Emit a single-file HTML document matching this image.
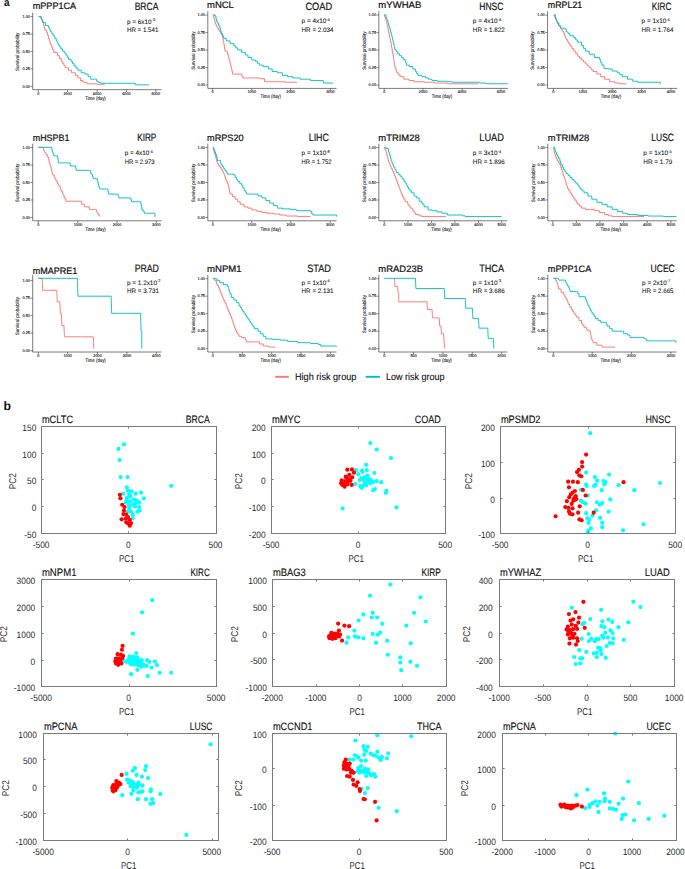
<!DOCTYPE html>
<html><head><meta charset="utf-8"><title>Figure</title>
<style>html,body{margin:0;padding:0;background:#fff;}body{width:685px;height:869px;overflow:hidden;}svg{display:block;font-family:"Liberation Sans",sans-serif;text-rendering:geometricPrecision;}</style></head><body>
<svg width="685" height="869" viewBox="0 0 685 869">
<rect width="685" height="869" fill="#fff"/>
<text x="3.9" y="6.2" font-size="11" font-weight="bold" textLength="5.6" lengthAdjust="spacingAndGlyphs" fill="#111">a</text>
<text x="3.4" y="410" font-size="12.3" font-weight="bold" fill="#111">b</text>
<g transform="translate(0,0) scale(0.25547)">
<path d="M128 49.5 V351 H632" fill="none" stroke="#3a3a3a" stroke-width="2.6"/>
<path d="M119 64.5 H128" stroke="#3a3a3a" stroke-width="2.4"/>
<text x="117" y="69.5" font-size="15" text-anchor="end" fill="#1a1a1a" stroke="#1a1a1a" stroke-width="0.5">1.00</text>
<path d="M119 132.88 H128" stroke="#3a3a3a" stroke-width="2.4"/>
<text x="117" y="137.88" font-size="15" text-anchor="end" fill="#1a1a1a" stroke="#1a1a1a" stroke-width="0.5">0.75</text>
<path d="M119 201.25 H128" stroke="#3a3a3a" stroke-width="2.4"/>
<text x="117" y="206.25" font-size="15" text-anchor="end" fill="#1a1a1a" stroke="#1a1a1a" stroke-width="0.5">0.50</text>
<path d="M119 269.62 H128" stroke="#3a3a3a" stroke-width="2.4"/>
<text x="117" y="274.62" font-size="15" text-anchor="end" fill="#1a1a1a" stroke="#1a1a1a" stroke-width="0.5">0.25</text>
<path d="M119 338 H128" stroke="#3a3a3a" stroke-width="2.4"/>
<text x="117" y="343" font-size="15" text-anchor="end" fill="#1a1a1a" stroke="#1a1a1a" stroke-width="0.5">0.00</text>
<path d="M150 351 V360" stroke="#3a3a3a" stroke-width="2.4"/>
<text x="150" y="370.5" font-size="15" text-anchor="middle" fill="#1a1a1a" stroke="#1a1a1a" stroke-width="0.5">0</text>
<path d="M265 351 V360" stroke="#3a3a3a" stroke-width="2.4"/>
<text x="265" y="370.5" font-size="15" text-anchor="middle" fill="#1a1a1a" stroke="#1a1a1a" stroke-width="0.5">2000</text>
<path d="M380 351 V360" stroke="#3a3a3a" stroke-width="2.4"/>
<text x="380" y="370.5" font-size="15" text-anchor="middle" fill="#1a1a1a" stroke="#1a1a1a" stroke-width="0.5">4000</text>
<path d="M495 351 V360" stroke="#3a3a3a" stroke-width="2.4"/>
<text x="495" y="370.5" font-size="15" text-anchor="middle" fill="#1a1a1a" stroke="#1a1a1a" stroke-width="0.5">6000</text>
<path d="M610 351 V360" stroke="#3a3a3a" stroke-width="2.4"/>
<text x="610" y="370.5" font-size="15" text-anchor="middle" fill="#1a1a1a" stroke="#1a1a1a" stroke-width="0.5">8000</text>
<text x="374" y="390.5" font-size="19.5" text-anchor="middle" textLength="80" lengthAdjust="spacingAndGlyphs" fill="#111" stroke="#111" stroke-width="0.35">Time (day)</text>
<text transform="translate(76,203.25) rotate(-90)" font-size="19.5" text-anchor="middle" textLength="150" lengthAdjust="spacingAndGlyphs" fill="#111" stroke="#111" stroke-width="0.35">Survival probability</text>
<path d="M155 66 L162 66 L162 75 L165 75 L165 82.5 L168 82.5 L168 90 L170.33 90 L170.33 99.33 L172.67 99.33 L172.67 108.67 L175 108.67 L175 118 L183 118 L183 128 L186.5 128 L186.5 139 L190 139 L190 150 L192.67 150 L192.67 158.33 L195.33 158.33 L195.33 166.67 L198 166.67 L198 175 L202 175 L202 185 L206 185 L206 195 L210 195 L210 205 L225 205 L225 218 L232.5 218 L232.5 229 L240 229 L240 240 L245 240 L245 248.33 L250 248.33 L250 256.67 L255 256.67 L255 265 L268 265 L268 275 L280 275 L280 285 L295 285 L295 295 L305 295 L305 305 L315 305 L315 315 L325 315 L325 322 L340 322 L340 328 L380 328 L380 330 L408 330 L408 332" fill="none" stroke="#F8766D" stroke-width="3.6" stroke-linejoin="miter"/>
<path d="M150 65 L160 65 L160 72 L164 72 L164 80 L168 80 L168 88 L178 88 L178 100 L190 100 L190 108 L194 108 L194 116.5 L198 116.5 L198 125 L203 125 L203 132.5 L208 132.5 L208 140 L214 140 L214 150 L220 150 L220 160 L224 160 L224 167.67 L228 167.67 L228 175.33 L232 175.33 L232 183 L238.5 183 L238.5 191.5 L245 191.5 L245 200 L251.5 200 L251.5 207.5 L258 207.5 L258 215 L263 215 L263 223.5 L268 223.5 L268 232 L278 232 L278 240 L284 240 L284 249 L290 249 L290 258 L297.5 258 L297.5 266.5 L305 266.5 L305 275 L318 275 L318 285 L332 285 L332 290 L345 290 L345 300 L355 300 L355 310 L370 310 L378 310 L378 318 L385 318 L385 323 L395 323 L395 326 L520 326 L530 326 L530 332 L582 332 L582 334" fill="none" stroke="#00BFC4" stroke-width="3.6" stroke-linejoin="miter"/>
<text x="128" y="36" font-size="36.4" stroke="#111" stroke-width="0.85" textLength="170" lengthAdjust="spacingAndGlyphs" fill="#111">mPPP1CA</text>
<text x="527" y="39.14" font-size="41.5" stroke="#111" stroke-width="0.7" textLength="93" lengthAdjust="spacingAndGlyphs" fill="#111">BRCA</text>
<text x="497" y="93.75" font-size="25" fill="#111" stroke="#111" stroke-width="0.25"><tspan>p = 6x10</tspan><tspan font-size="16" dy="-10">-3</tspan></text>
<text x="497" y="126.04" font-size="25" stroke="#111" stroke-width="0.25" textLength="123" lengthAdjust="spacingAndGlyphs" fill="#111">HR = 1.541</text>
</g>
<g transform="translate(170,0) scale(0.25547)">
<path d="M148 44 V346 H652" fill="none" stroke="#3a3a3a" stroke-width="2.6"/>
<path d="M139 59 H148" stroke="#3a3a3a" stroke-width="2.4"/>
<text x="137" y="64" font-size="15" text-anchor="end" fill="#1a1a1a" stroke="#1a1a1a" stroke-width="0.5">1.00</text>
<path d="M139 127.5 H148" stroke="#3a3a3a" stroke-width="2.4"/>
<text x="137" y="132.5" font-size="15" text-anchor="end" fill="#1a1a1a" stroke="#1a1a1a" stroke-width="0.5">0.75</text>
<path d="M139 196 H148" stroke="#3a3a3a" stroke-width="2.4"/>
<text x="137" y="201" font-size="15" text-anchor="end" fill="#1a1a1a" stroke="#1a1a1a" stroke-width="0.5">0.50</text>
<path d="M139 264.5 H148" stroke="#3a3a3a" stroke-width="2.4"/>
<text x="137" y="269.5" font-size="15" text-anchor="end" fill="#1a1a1a" stroke="#1a1a1a" stroke-width="0.5">0.25</text>
<path d="M139 333 H148" stroke="#3a3a3a" stroke-width="2.4"/>
<text x="137" y="338" font-size="15" text-anchor="end" fill="#1a1a1a" stroke="#1a1a1a" stroke-width="0.5">0.00</text>
<path d="M167 346 V355" stroke="#3a3a3a" stroke-width="2.4"/>
<text x="167" y="365.5" font-size="15" text-anchor="middle" fill="#1a1a1a" stroke="#1a1a1a" stroke-width="0.5">0</text>
<path d="M320 346 V355" stroke="#3a3a3a" stroke-width="2.4"/>
<text x="320" y="365.5" font-size="15" text-anchor="middle" fill="#1a1a1a" stroke="#1a1a1a" stroke-width="0.5">1000</text>
<path d="M472 346 V355" stroke="#3a3a3a" stroke-width="2.4"/>
<text x="472" y="365.5" font-size="15" text-anchor="middle" fill="#1a1a1a" stroke="#1a1a1a" stroke-width="0.5">2000</text>
<path d="M628 346 V355" stroke="#3a3a3a" stroke-width="2.4"/>
<text x="628" y="365.5" font-size="15" text-anchor="middle" fill="#1a1a1a" stroke="#1a1a1a" stroke-width="0.5">3000</text>
<text x="394" y="385.5" font-size="19.5" text-anchor="middle" textLength="80" lengthAdjust="spacingAndGlyphs" fill="#111" stroke="#111" stroke-width="0.35">Time (day)</text>
<text transform="translate(96,198) rotate(-90)" font-size="19.5" text-anchor="middle" textLength="150" lengthAdjust="spacingAndGlyphs" fill="#111" stroke="#111" stroke-width="0.35">Survival probability</text>
<path d="M167 58 L169.5 58 L169.5 65 L172 65 L172 72 L174 72 L174 79.67 L176 79.67 L176 87.33 L178 87.33 L178 95 L181.5 95 L181.5 102.5 L185 102.5 L185 110 L190 110 L190 117.5 L195 117.5 L195 125 L200 125 L200 135 L205 135 L205 145 L206.75 145 L206.75 153.75 L208.5 153.75 L208.5 162.5 L210.25 162.5 L210.25 171.25 L212 171.25 L212 180 L213.5 180 L213.5 190 L215 190 L215 200 L225 200 L225 210 L227.5 210 L227.5 220 L230 220 L230 230 L232.5 230 L232.5 240 L235 240 L235 250 L237.5 250 L237.5 260 L240 260 L240 270 L242.5 270 L242.5 280 L245 280 L245 290 L280 290 L280 295 L285 295 L285 305 L350 305 L350 308 L370 308 L370 320 L450 320 L450 322 L495 322 L495 325" fill="none" stroke="#F8766D" stroke-width="3.6" stroke-linejoin="miter"/>
<path d="M170 58 L175 58 L175 62 L180 62 L180 75 L182.5 75 L182.5 82.5 L185 82.5 L185 90 L190 90 L190 100 L195 100 L195 110 L197.5 110 L197.5 120 L200 120 L200 130 L205 130 L205 140 L210 140 L210 150 L220 150 L220 160 L235 160 L235 170 L250 170 L250 180 L257.5 180 L257.5 187.5 L265 187.5 L265 195 L280 195 L280 205 L295 205 L295 215 L305 215 L305 225 L320 225 L320 235 L335 235 L335 240 L342.5 240 L342.5 247.5 L350 247.5 L350 255 L365 255 L365 260 L385 260 L385 270 L400 270 L400 280 L420 280 L420 285 L440 285 L440 295 L460 295 L460 300 L480 300 L480 305 L510 305 L510 310 L550 310 L550 315 L600 315 L600 325 L635 325 L635 328" fill="none" stroke="#00BFC4" stroke-width="3.6" stroke-linejoin="miter"/>
<text x="145" y="32" font-size="36.4" stroke="#111" stroke-width="0.85" textLength="105" lengthAdjust="spacingAndGlyphs" fill="#111">mNCL</text>
<text x="530" y="39.14" font-size="41.5" stroke="#111" stroke-width="0.7" textLength="105" lengthAdjust="spacingAndGlyphs" fill="#111">COAD</text>
<text x="515" y="91.59" font-size="25" fill="#111" stroke="#111" stroke-width="0.25"><tspan>p = 4x10</tspan><tspan font-size="16" dy="-10">-4</tspan></text>
<text x="515" y="126.43" font-size="25" stroke="#111" stroke-width="0.25" textLength="125" lengthAdjust="spacingAndGlyphs" fill="#111">HR = 2.034</text>
</g>
<g transform="translate(340,0) scale(0.25547)">
<path d="M152 44 V346 H658" fill="none" stroke="#3a3a3a" stroke-width="2.6"/>
<path d="M143 59 H152" stroke="#3a3a3a" stroke-width="2.4"/>
<text x="141" y="64" font-size="15" text-anchor="end" fill="#1a1a1a" stroke="#1a1a1a" stroke-width="0.5">1.00</text>
<path d="M143 127.5 H152" stroke="#3a3a3a" stroke-width="2.4"/>
<text x="141" y="132.5" font-size="15" text-anchor="end" fill="#1a1a1a" stroke="#1a1a1a" stroke-width="0.5">0.75</text>
<path d="M143 196 H152" stroke="#3a3a3a" stroke-width="2.4"/>
<text x="141" y="201" font-size="15" text-anchor="end" fill="#1a1a1a" stroke="#1a1a1a" stroke-width="0.5">0.50</text>
<path d="M143 264.5 H152" stroke="#3a3a3a" stroke-width="2.4"/>
<text x="141" y="269.5" font-size="15" text-anchor="end" fill="#1a1a1a" stroke="#1a1a1a" stroke-width="0.5">0.25</text>
<path d="M143 333 H152" stroke="#3a3a3a" stroke-width="2.4"/>
<text x="141" y="338" font-size="15" text-anchor="end" fill="#1a1a1a" stroke="#1a1a1a" stroke-width="0.5">0.00</text>
<path d="M173 346 V355" stroke="#3a3a3a" stroke-width="2.4"/>
<text x="173" y="365.5" font-size="15" text-anchor="middle" fill="#1a1a1a" stroke="#1a1a1a" stroke-width="0.5">0</text>
<path d="M325 346 V355" stroke="#3a3a3a" stroke-width="2.4"/>
<text x="325" y="365.5" font-size="15" text-anchor="middle" fill="#1a1a1a" stroke="#1a1a1a" stroke-width="0.5">2000</text>
<path d="M478 346 V355" stroke="#3a3a3a" stroke-width="2.4"/>
<text x="478" y="365.5" font-size="15" text-anchor="middle" fill="#1a1a1a" stroke="#1a1a1a" stroke-width="0.5">4000</text>
<path d="M630 346 V355" stroke="#3a3a3a" stroke-width="2.4"/>
<text x="630" y="365.5" font-size="15" text-anchor="middle" fill="#1a1a1a" stroke="#1a1a1a" stroke-width="0.5">6000</text>
<text x="399" y="385.5" font-size="19.5" text-anchor="middle" textLength="80" lengthAdjust="spacingAndGlyphs" fill="#111" stroke="#111" stroke-width="0.35">Time (day)</text>
<text transform="translate(100,198) rotate(-90)" font-size="19.5" text-anchor="middle" textLength="150" lengthAdjust="spacingAndGlyphs" fill="#111" stroke="#111" stroke-width="0.35">Survival probability</text>
<path d="M172 60 L175 60 L175 67.5 L178 67.5 L178 75 L180.33 75 L180.33 83.33 L182.67 83.33 L182.67 91.67 L185 91.67 L185 100 L186.75 100 L186.75 108.75 L188.5 108.75 L188.5 117.5 L190.25 117.5 L190.25 126.25 L192 126.25 L192 135 L194 135 L194 145 L196 145 L196 155 L198 155 L198 165 L200 165 L200 175 L201.6 175 L201.6 184 L203.2 184 L203.2 193 L204.8 193 L204.8 202 L206.4 202 L206.4 211 L208 211 L208 220 L209.4 220 L209.4 229 L210.8 229 L210.8 238 L212.2 238 L212.2 247 L213.6 247 L213.6 256 L215 256 L215 265 L218.5 265 L218.5 275 L222 275 L222 285 L228.5 285 L228.5 292.5 L235 292.5 L235 300 L250 300 L250 310 L270 310 L270 315 L290 315 L290 320 L330 320 L330 322 L370 322 L370 325 L420 325 L420 328 L540 328 L540 330" fill="none" stroke="#F8766D" stroke-width="3.6" stroke-linejoin="miter"/>
<path d="M172 58 L180 58 L180 70 L184 70 L184 80 L188 80 L188 90 L190.33 90 L190.33 98.33 L192.67 98.33 L192.67 106.67 L195 106.67 L195 115 L197.67 115 L197.67 125 L200.33 125 L200.33 135 L203 135 L203 145 L205.33 145 L205.33 155 L207.67 155 L207.67 165 L210 165 L210 175 L212.5 175 L212.5 185 L215 185 L215 195 L220 195 L220 202.5 L225 202.5 L225 210 L232.5 210 L232.5 217.5 L240 217.5 L240 225 L247.5 225 L247.5 232.5 L255 232.5 L255 240 L257.5 240 L257.5 247.5 L260 247.5 L260 255 L270 255 L270 260 L285 260 L285 270 L295 270 L295 280 L300 280 L300 287.5 L305 287.5 L305 295 L320 295 L320 300 L335 300 L335 305 L345 305 L345 310 L360 310 L360 315 L380 315 L380 318 L420 318 L420 320 L440 320 L440 322 L540 322 L545 322 L545 325 L570 325 L570 327 L580 328 L658 328" fill="none" stroke="#00BFC4" stroke-width="3.6" stroke-linejoin="miter"/>
<text x="150" y="32" font-size="36.4" stroke="#111" stroke-width="0.85" textLength="168" lengthAdjust="spacingAndGlyphs" fill="#111">mYWHAB</text>
<text x="545" y="39.14" font-size="41.5" stroke="#111" stroke-width="0.7" textLength="95" lengthAdjust="spacingAndGlyphs" fill="#111">HNSC</text>
<text x="520" y="91.59" font-size="25" fill="#111" stroke="#111" stroke-width="0.25"><tspan>p = 4x10</tspan><tspan font-size="16" dy="-10">-4</tspan></text>
<text x="520" y="126.43" font-size="25" stroke="#111" stroke-width="0.25" textLength="125" lengthAdjust="spacingAndGlyphs" fill="#111">HR = 1.822</text>
</g>
<g transform="translate(510,0) scale(0.25547)">
<path d="M147 44 V346 H655" fill="none" stroke="#3a3a3a" stroke-width="2.6"/>
<path d="M138 59 H147" stroke="#3a3a3a" stroke-width="2.4"/>
<text x="136" y="64" font-size="15" text-anchor="end" fill="#1a1a1a" stroke="#1a1a1a" stroke-width="0.5">1.00</text>
<path d="M138 127.5 H147" stroke="#3a3a3a" stroke-width="2.4"/>
<text x="136" y="132.5" font-size="15" text-anchor="end" fill="#1a1a1a" stroke="#1a1a1a" stroke-width="0.5">0.75</text>
<path d="M138 196 H147" stroke="#3a3a3a" stroke-width="2.4"/>
<text x="136" y="201" font-size="15" text-anchor="end" fill="#1a1a1a" stroke="#1a1a1a" stroke-width="0.5">0.50</text>
<path d="M138 264.5 H147" stroke="#3a3a3a" stroke-width="2.4"/>
<text x="136" y="269.5" font-size="15" text-anchor="end" fill="#1a1a1a" stroke="#1a1a1a" stroke-width="0.5">0.25</text>
<path d="M138 333 H147" stroke="#3a3a3a" stroke-width="2.4"/>
<text x="136" y="338" font-size="15" text-anchor="end" fill="#1a1a1a" stroke="#1a1a1a" stroke-width="0.5">0.00</text>
<path d="M170 346 V355" stroke="#3a3a3a" stroke-width="2.4"/>
<text x="170" y="365.5" font-size="15" text-anchor="middle" fill="#1a1a1a" stroke="#1a1a1a" stroke-width="0.5">0</text>
<path d="M285 346 V355" stroke="#3a3a3a" stroke-width="2.4"/>
<text x="285" y="365.5" font-size="15" text-anchor="middle" fill="#1a1a1a" stroke="#1a1a1a" stroke-width="0.5">1000</text>
<path d="M400 346 V355" stroke="#3a3a3a" stroke-width="2.4"/>
<text x="400" y="365.5" font-size="15" text-anchor="middle" fill="#1a1a1a" stroke="#1a1a1a" stroke-width="0.5">2000</text>
<path d="M515 346 V355" stroke="#3a3a3a" stroke-width="2.4"/>
<text x="515" y="365.5" font-size="15" text-anchor="middle" fill="#1a1a1a" stroke="#1a1a1a" stroke-width="0.5">3000</text>
<path d="M630 346 V355" stroke="#3a3a3a" stroke-width="2.4"/>
<text x="630" y="365.5" font-size="15" text-anchor="middle" fill="#1a1a1a" stroke="#1a1a1a" stroke-width="0.5">4000</text>
<text x="395" y="385.5" font-size="19.5" text-anchor="middle" textLength="80" lengthAdjust="spacingAndGlyphs" fill="#111" stroke="#111" stroke-width="0.35">Time (day)</text>
<text transform="translate(95,198) rotate(-90)" font-size="19.5" text-anchor="middle" textLength="150" lengthAdjust="spacingAndGlyphs" fill="#111" stroke="#111" stroke-width="0.35">Survival probability</text>
<path d="M170 60 L174 60 L174 67.5 L178 67.5 L178 75 L181.5 75 L181.5 82.5 L185 82.5 L185 90 L192 90 L192 100 L196 100 L196 107.5 L200 107.5 L200 115 L205 115 L205 122.5 L210 122.5 L210 130 L213.33 130 L213.33 138.33 L216.67 138.33 L216.67 146.67 L220 146.67 L220 155 L225 155 L225 163.33 L230 163.33 L230 171.67 L235 171.67 L235 180 L242.5 180 L242.5 190 L250 190 L250 200 L257.5 200 L257.5 210 L265 210 L265 220 L272.5 220 L272.5 227.5 L280 227.5 L280 235 L287.5 235 L287.5 242.5 L295 242.5 L295 250 L302.5 250 L302.5 257.5 L310 257.5 L310 265 L317.5 265 L317.5 272.5 L325 272.5 L325 280 L340 280 L340 290 L355 290 L355 300 L370 300 L370 310 L390 310 L390 320 L410 320 L410 325 L430 325 L430 328 L455 328 L455 330" fill="none" stroke="#F8766D" stroke-width="3.6" stroke-linejoin="miter"/>
<path d="M172 58 L178 58 L178 70 L180.5 70 L180.5 77.5 L183 77.5 L183 85 L186.5 85 L186.5 92.5 L190 92.5 L190 100 L197 100 L197 110 L210 110 L210 113 L220 113 L220 125 L227.5 125 L227.5 132.5 L235 132.5 L235 140 L250 140 L250 148 L257.5 148 L257.5 156.5 L265 156.5 L265 165 L280 165 L280 178 L287.5 178 L287.5 189 L295 189 L295 200 L310 200 L310 212 L330 212 L330 225 L350 225 L350 232 L355 232 L355 245 L360 245 L360 255 L368 255 L368 268 L385 268 L385 270 L400 270 L400 278 L420 278 L420 285 L430 285 L430 292.5 L440 292.5 L440 300 L460 300 L460 310 L480 310 L480 318 L500 318 L500 322 L580 322 L588 322 L588 330" fill="none" stroke="#00BFC4" stroke-width="3.6" stroke-linejoin="miter"/>
<text x="148" y="32" font-size="36.4" stroke="#111" stroke-width="0.85" textLength="135" lengthAdjust="spacingAndGlyphs" fill="#111">mRPL21</text>
<text x="555" y="39.14" font-size="41.5" stroke="#111" stroke-width="0.7" textLength="77" lengthAdjust="spacingAndGlyphs" fill="#111">KIRC</text>
<text x="515" y="91.59" font-size="25" fill="#111" stroke="#111" stroke-width="0.25"><tspan>p = 1x10</tspan><tspan font-size="16" dy="-10">-4</tspan></text>
<text x="515" y="126.43" font-size="25" stroke="#111" stroke-width="0.25" textLength="125" lengthAdjust="spacingAndGlyphs" fill="#111">HR = 1.764</text>
</g>
<g transform="translate(0,120) scale(0.25547)">
<path d="M128 92.5 V394.5 H632" fill="none" stroke="#3a3a3a" stroke-width="2.6"/>
<path d="M119 107.5 H128" stroke="#3a3a3a" stroke-width="2.4"/>
<text x="117" y="112.5" font-size="15" text-anchor="end" fill="#1a1a1a" stroke="#1a1a1a" stroke-width="0.5">1.00</text>
<path d="M119 176 H128" stroke="#3a3a3a" stroke-width="2.4"/>
<text x="117" y="181" font-size="15" text-anchor="end" fill="#1a1a1a" stroke="#1a1a1a" stroke-width="0.5">0.75</text>
<path d="M119 244.5 H128" stroke="#3a3a3a" stroke-width="2.4"/>
<text x="117" y="249.5" font-size="15" text-anchor="end" fill="#1a1a1a" stroke="#1a1a1a" stroke-width="0.5">0.50</text>
<path d="M119 313 H128" stroke="#3a3a3a" stroke-width="2.4"/>
<text x="117" y="318" font-size="15" text-anchor="end" fill="#1a1a1a" stroke="#1a1a1a" stroke-width="0.5">0.25</text>
<path d="M119 381.5 H128" stroke="#3a3a3a" stroke-width="2.4"/>
<text x="117" y="386.5" font-size="15" text-anchor="end" fill="#1a1a1a" stroke="#1a1a1a" stroke-width="0.5">0.00</text>
<path d="M150 394.5 V403.5" stroke="#3a3a3a" stroke-width="2.4"/>
<text x="150" y="414" font-size="15" text-anchor="middle" fill="#1a1a1a" stroke="#1a1a1a" stroke-width="0.5">0</text>
<path d="M305 394.5 V403.5" stroke="#3a3a3a" stroke-width="2.4"/>
<text x="305" y="414" font-size="15" text-anchor="middle" fill="#1a1a1a" stroke="#1a1a1a" stroke-width="0.5">1000</text>
<path d="M458 394.5 V403.5" stroke="#3a3a3a" stroke-width="2.4"/>
<text x="458" y="414" font-size="15" text-anchor="middle" fill="#1a1a1a" stroke="#1a1a1a" stroke-width="0.5">2000</text>
<path d="M612 394.5 V403.5" stroke="#3a3a3a" stroke-width="2.4"/>
<text x="612" y="414" font-size="15" text-anchor="middle" fill="#1a1a1a" stroke="#1a1a1a" stroke-width="0.5">3000</text>
<text x="374" y="434" font-size="19.5" text-anchor="middle" textLength="80" lengthAdjust="spacingAndGlyphs" fill="#111" stroke="#111" stroke-width="0.35">Time (day)</text>
<text transform="translate(76,246.5) rotate(-90)" font-size="19.5" text-anchor="middle" textLength="150" lengthAdjust="spacingAndGlyphs" fill="#111" stroke="#111" stroke-width="0.35">Survival probability</text>
<path d="M150 107 L165 107 L170 107 L170 120 L175 120 L175 127.5 L180 127.5 L180 135 L185 135 L185 145 L190 145 L190 155 L192.5 155 L192.5 165 L195 165 L195 175 L197.5 175 L197.5 182.5 L200 182.5 L200 190 L201.67 190 L201.67 198.33 L203.33 198.33 L203.33 206.67 L205 206.67 L205 215 L212 215 L212 225 L216 225 L216 232.5 L220 232.5 L220 240 L225 240 L225 250 L230 250 L230 257.5 L235 257.5 L235 265 L237.5 265 L237.5 272.5 L240 272.5 L240 280 L245 280 L245 290 L250 290 L250 300 L254 300 L254 309 L258 309 L258 318 L290 318 L315 318 L320 318 L320 330 L330 330 L330 340 L350 340 L350 350 L375 350 L377.5 350 L377.5 357.5 L380 357.5 L380 365 L385 365 L385 372 L390 372 L390 378" fill="none" stroke="#F8766D" stroke-width="3.6" stroke-linejoin="miter"/>
<path d="M150 107 L200 107 L202.5 107 L202.5 116 L205 116 L205 125 L207.5 125 L207.5 132.5 L210 132.5 L210 140 L225 140 L226 140 L226 149.33 L227 149.33 L227 158.67 L228 158.67 L228 168 L270 168 L275 168 L275 180 L295 180 L296.5 180 L296.5 188.5 L298 188.5 L298 197 L350 197 L355 197 L355 210 L360 210 L360 215 L362.5 215 L362.5 222.5 L365 222.5 L365 230 L380 230 L381.67 230 L381.67 238.33 L383.33 238.33 L383.33 246.67 L385 246.67 L385 255 L387.5 255 L387.5 262.5 L390 262.5 L390 270 L420 270 L422.5 270 L422.5 280 L425 280 L425 290 L460 290 L462.5 290 L462.5 297.5 L465 297.5 L465 305 L510 305 L512.5 305 L512.5 312.5 L515 312.5 L515 320 L550 320 L551.67 320 L551.67 330 L553.33 330 L553.33 340 L555 340 L555 350 L560 350 L560 357.5 L565 357.5 L565 365 L605 365 L606 365 L606 372.5 L607 372.5 L607 380" fill="none" stroke="#00BFC4" stroke-width="3.6" stroke-linejoin="miter"/>
<text x="128" y="80.5" font-size="36.4" stroke="#111" stroke-width="0.85" textLength="144" lengthAdjust="spacingAndGlyphs" fill="#111">mHSPB1</text>
<text x="537" y="80.5" font-size="41.5" stroke="#111" stroke-width="0.7" textLength="75" lengthAdjust="spacingAndGlyphs" fill="#111">KIRP</text>
<text x="488" y="137.5" font-size="25" fill="#111" stroke="#111" stroke-width="0.25"><tspan>p = 4x10</tspan><tspan font-size="16" dy="-10">-5</tspan></text>
<text x="488" y="170.5" font-size="25" stroke="#111" stroke-width="0.25" textLength="117" lengthAdjust="spacingAndGlyphs" fill="#111">HR = 2.973</text>
</g>
<g transform="translate(170,120) scale(0.25547)">
<path d="M148 92.5 V394.5 H652" fill="none" stroke="#3a3a3a" stroke-width="2.6"/>
<path d="M139 107.5 H148" stroke="#3a3a3a" stroke-width="2.4"/>
<text x="137" y="112.5" font-size="15" text-anchor="end" fill="#1a1a1a" stroke="#1a1a1a" stroke-width="0.5">1.00</text>
<path d="M139 176 H148" stroke="#3a3a3a" stroke-width="2.4"/>
<text x="137" y="181" font-size="15" text-anchor="end" fill="#1a1a1a" stroke="#1a1a1a" stroke-width="0.5">0.75</text>
<path d="M139 244.5 H148" stroke="#3a3a3a" stroke-width="2.4"/>
<text x="137" y="249.5" font-size="15" text-anchor="end" fill="#1a1a1a" stroke="#1a1a1a" stroke-width="0.5">0.50</text>
<path d="M139 313 H148" stroke="#3a3a3a" stroke-width="2.4"/>
<text x="137" y="318" font-size="15" text-anchor="end" fill="#1a1a1a" stroke="#1a1a1a" stroke-width="0.5">0.25</text>
<path d="M139 381.5 H148" stroke="#3a3a3a" stroke-width="2.4"/>
<text x="137" y="386.5" font-size="15" text-anchor="end" fill="#1a1a1a" stroke="#1a1a1a" stroke-width="0.5">0.00</text>
<path d="M168 394.5 V403.5" stroke="#3a3a3a" stroke-width="2.4"/>
<text x="168" y="414" font-size="15" text-anchor="middle" fill="#1a1a1a" stroke="#1a1a1a" stroke-width="0.5">0</text>
<path d="M320 394.5 V403.5" stroke="#3a3a3a" stroke-width="2.4"/>
<text x="320" y="414" font-size="15" text-anchor="middle" fill="#1a1a1a" stroke="#1a1a1a" stroke-width="0.5">1000</text>
<path d="M473 394.5 V403.5" stroke="#3a3a3a" stroke-width="2.4"/>
<text x="473" y="414" font-size="15" text-anchor="middle" fill="#1a1a1a" stroke="#1a1a1a" stroke-width="0.5">2000</text>
<path d="M627 394.5 V403.5" stroke="#3a3a3a" stroke-width="2.4"/>
<text x="627" y="414" font-size="15" text-anchor="middle" fill="#1a1a1a" stroke="#1a1a1a" stroke-width="0.5">3000</text>
<text x="394" y="434" font-size="19.5" text-anchor="middle" textLength="80" lengthAdjust="spacingAndGlyphs" fill="#111" stroke="#111" stroke-width="0.35">Time (day)</text>
<text transform="translate(96,246.5) rotate(-90)" font-size="19.5" text-anchor="middle" textLength="150" lengthAdjust="spacingAndGlyphs" fill="#111" stroke="#111" stroke-width="0.35">Survival probability</text>
<path d="M168 110 L170 110 L170 117.5 L172 117.5 L172 125 L175 125 L175 135 L178 135 L178 145 L180.33 145 L180.33 153.33 L182.67 153.33 L182.67 161.67 L185 161.67 L185 170 L190 170 L190 177.5 L195 177.5 L195 185 L200 185 L200 192.5 L205 192.5 L205 200 L208.5 200 L208.5 207.5 L212 207.5 L212 215 L214.67 215 L214.67 223.33 L217.33 223.33 L217.33 231.67 L220 231.67 L220 240 L224 240 L224 250 L228 250 L228 260 L230.33 260 L230.33 270 L232.67 270 L232.67 280 L235 280 L235 290 L245 290 L245 300 L255 300 L255 310 L265 310 L265 320 L275 320 L275 330 L290 330 L290 340 L305 340 L305 345 L320 345 L320 352 L340 352 L340 358 L360 358 L360 362 L380 362 L380 365 L405 365 L405 368 L430 368 L430 372 L455 372 L455 376 L500 376 L500 378 L550 378" fill="none" stroke="#F8766D" stroke-width="3.6" stroke-linejoin="miter"/>
<path d="M168 107 L171.5 107 L171.5 116 L175 116 L175 125 L178.5 125 L178.5 135 L182 135 L182 145 L185 145 L185 158 L195 158 L197.5 158 L197.5 166.5 L200 166.5 L200 175 L205 175 L205 182.5 L210 182.5 L210 190 L215 190 L215 197.5 L220 197.5 L220 205 L225 205 L225 212 L240 212 L250 212 L250 215 L255 215 L255 225 L260 225 L260 232.5 L265 232.5 L265 240 L272.5 240 L272.5 247.5 L280 247.5 L280 255 L285 255 L285 265 L290 265 L290 275 L295 275 L295 282.5 L300 282.5 L300 290 L330 290 L345 290 L345 297 L360 297 L360 305 L375 305 L375 315 L390 315 L390 325 L405 325 L405 335 L420 335 L420 345 L440 345 L440 348 L470 348 L470 350 L495 350 L495 355 L550 355 L550 358 L555 358 L555 368 L560 368 L560 372 L645 372 L652 372 L652 378" fill="none" stroke="#00BFC4" stroke-width="3.6" stroke-linejoin="miter"/>
<text x="145" y="80.5" font-size="36.4" stroke="#111" stroke-width="0.85" textLength="143" lengthAdjust="spacingAndGlyphs" fill="#111">mRPS20</text>
<text x="543" y="80.5" font-size="41.5" stroke="#111" stroke-width="0.7" textLength="79" lengthAdjust="spacingAndGlyphs" fill="#111">LIHC</text>
<text x="515" y="137.5" font-size="25" fill="#111" stroke="#111" stroke-width="0.25"><tspan>p = 1x10</tspan><tspan font-size="16" dy="-10">-8</tspan></text>
<text x="515" y="170.5" font-size="25" stroke="#111" stroke-width="0.25" textLength="117" lengthAdjust="spacingAndGlyphs" fill="#111">HR = 1.752</text>
</g>
<g transform="translate(340,120) scale(0.25547)">
<path d="M152 92.5 V394.5 H655" fill="none" stroke="#3a3a3a" stroke-width="2.6"/>
<path d="M143 107.5 H152" stroke="#3a3a3a" stroke-width="2.4"/>
<text x="141" y="112.5" font-size="15" text-anchor="end" fill="#1a1a1a" stroke="#1a1a1a" stroke-width="0.5">1.00</text>
<path d="M143 176 H152" stroke="#3a3a3a" stroke-width="2.4"/>
<text x="141" y="181" font-size="15" text-anchor="end" fill="#1a1a1a" stroke="#1a1a1a" stroke-width="0.5">0.75</text>
<path d="M143 244.5 H152" stroke="#3a3a3a" stroke-width="2.4"/>
<text x="141" y="249.5" font-size="15" text-anchor="end" fill="#1a1a1a" stroke="#1a1a1a" stroke-width="0.5">0.50</text>
<path d="M143 313 H152" stroke="#3a3a3a" stroke-width="2.4"/>
<text x="141" y="318" font-size="15" text-anchor="end" fill="#1a1a1a" stroke="#1a1a1a" stroke-width="0.5">0.25</text>
<path d="M143 381.5 H152" stroke="#3a3a3a" stroke-width="2.4"/>
<text x="141" y="386.5" font-size="15" text-anchor="end" fill="#1a1a1a" stroke="#1a1a1a" stroke-width="0.5">0.00</text>
<path d="M173 394.5 V403.5" stroke="#3a3a3a" stroke-width="2.4"/>
<text x="173" y="414" font-size="15" text-anchor="middle" fill="#1a1a1a" stroke="#1a1a1a" stroke-width="0.5">0</text>
<path d="M266 394.5 V403.5" stroke="#3a3a3a" stroke-width="2.4"/>
<text x="266" y="414" font-size="15" text-anchor="middle" fill="#1a1a1a" stroke="#1a1a1a" stroke-width="0.5">1000</text>
<path d="M358 394.5 V403.5" stroke="#3a3a3a" stroke-width="2.4"/>
<text x="358" y="414" font-size="15" text-anchor="middle" fill="#1a1a1a" stroke="#1a1a1a" stroke-width="0.5">2000</text>
<path d="M450 394.5 V403.5" stroke="#3a3a3a" stroke-width="2.4"/>
<text x="450" y="414" font-size="15" text-anchor="middle" fill="#1a1a1a" stroke="#1a1a1a" stroke-width="0.5">3000</text>
<path d="M542 394.5 V403.5" stroke="#3a3a3a" stroke-width="2.4"/>
<text x="542" y="414" font-size="15" text-anchor="middle" fill="#1a1a1a" stroke="#1a1a1a" stroke-width="0.5">4000</text>
<path d="M633 394.5 V403.5" stroke="#3a3a3a" stroke-width="2.4"/>
<text x="633" y="414" font-size="15" text-anchor="middle" fill="#1a1a1a" stroke="#1a1a1a" stroke-width="0.5">5000</text>
<text x="397.5" y="434" font-size="19.5" text-anchor="middle" textLength="80" lengthAdjust="spacingAndGlyphs" fill="#111" stroke="#111" stroke-width="0.35">Time (day)</text>
<text transform="translate(100,246.5) rotate(-90)" font-size="19.5" text-anchor="middle" textLength="150" lengthAdjust="spacingAndGlyphs" fill="#111" stroke="#111" stroke-width="0.35">Survival probability</text>
<path d="M173 110 L176.5 110 L176.5 117.5 L180 117.5 L180 125 L182.5 125 L182.5 135 L185 135 L185 145 L187.33 145 L187.33 153.33 L189.67 153.33 L189.67 161.67 L192 161.67 L192 170 L196 170 L196 180 L200 180 L200 190 L205 190 L205 200 L210 200 L210 210 L214 210 L214 220 L218 220 L218 230 L221.5 230 L221.5 240 L225 240 L225 250 L228.33 250 L228.33 258.33 L231.67 258.33 L231.67 266.67 L235 266.67 L235 275 L238.33 275 L238.33 283.33 L241.67 283.33 L241.67 291.67 L245 291.67 L245 300 L250 300 L250 310 L255 310 L255 320 L265 320 L265 330 L270 330 L270 337.5 L275 337.5 L275 345 L285 345 L285 355 L290 355 L290 362.5 L295 362.5 L295 370 L310 370 L310 375 L320 375 L320 378 L415 378" fill="none" stroke="#F8766D" stroke-width="3.6" stroke-linejoin="miter"/>
<path d="M173 107 L180 107 L180 112 L190 112 L190 125 L192.5 125 L192.5 132.5 L195 132.5 L195 140 L197.5 140 L197.5 150 L200 150 L200 160 L203.33 160 L203.33 168.33 L206.67 168.33 L206.67 176.67 L210 176.67 L210 185 L215 185 L215 195 L220 195 L220 205 L227.5 205 L227.5 212.5 L235 212.5 L235 220 L242.5 220 L242.5 230 L250 230 L250 240 L255 240 L255 247.5 L260 247.5 L260 255 L264 255 L264 262.5 L268 262.5 L268 270 L274 270 L274 277.5 L280 277.5 L280 285 L290 285 L290 298 L300 298 L300 305 L310 305 L310 318 L320 318 L320 325 L325 325 L325 332.5 L330 332.5 L330 340 L345 340 L345 352 L360 352 L360 355 L380 355 L380 360 L400 360 L400 365 L420 365 L420 372 L440 372 L480 372 L480 375 L490 375 L490 378 L633 378" fill="none" stroke="#00BFC4" stroke-width="3.6" stroke-linejoin="miter"/>
<text x="150" y="80.5" font-size="36.4" stroke="#111" stroke-width="0.85" textLength="162" lengthAdjust="spacingAndGlyphs" fill="#111">mTRIM28</text>
<text x="545" y="80.5" font-size="41.5" stroke="#111" stroke-width="0.7" textLength="97" lengthAdjust="spacingAndGlyphs" fill="#111">LUAD</text>
<text x="520" y="137.5" font-size="25" fill="#111" stroke="#111" stroke-width="0.25"><tspan>p = 3x10</tspan><tspan font-size="16" dy="-10">-4</tspan></text>
<text x="520" y="170.5" font-size="25" stroke="#111" stroke-width="0.25" textLength="125" lengthAdjust="spacingAndGlyphs" fill="#111">HR = 1.896</text>
</g>
<g transform="translate(510,120) scale(0.25547)">
<path d="M148 92.5 V394.5 H652" fill="none" stroke="#3a3a3a" stroke-width="2.6"/>
<path d="M139 107.5 H148" stroke="#3a3a3a" stroke-width="2.4"/>
<text x="137" y="112.5" font-size="15" text-anchor="end" fill="#1a1a1a" stroke="#1a1a1a" stroke-width="0.5">1.00</text>
<path d="M139 176 H148" stroke="#3a3a3a" stroke-width="2.4"/>
<text x="137" y="181" font-size="15" text-anchor="end" fill="#1a1a1a" stroke="#1a1a1a" stroke-width="0.5">0.75</text>
<path d="M139 244.5 H148" stroke="#3a3a3a" stroke-width="2.4"/>
<text x="137" y="249.5" font-size="15" text-anchor="end" fill="#1a1a1a" stroke="#1a1a1a" stroke-width="0.5">0.50</text>
<path d="M139 313 H148" stroke="#3a3a3a" stroke-width="2.4"/>
<text x="137" y="318" font-size="15" text-anchor="end" fill="#1a1a1a" stroke="#1a1a1a" stroke-width="0.5">0.25</text>
<path d="M139 381.5 H148" stroke="#3a3a3a" stroke-width="2.4"/>
<text x="137" y="386.5" font-size="15" text-anchor="end" fill="#1a1a1a" stroke="#1a1a1a" stroke-width="0.5">0.00</text>
<path d="M168 394.5 V403.5" stroke="#3a3a3a" stroke-width="2.4"/>
<text x="168" y="414" font-size="15" text-anchor="middle" fill="#1a1a1a" stroke="#1a1a1a" stroke-width="0.5">0</text>
<path d="M260 394.5 V403.5" stroke="#3a3a3a" stroke-width="2.4"/>
<text x="260" y="414" font-size="15" text-anchor="middle" fill="#1a1a1a" stroke="#1a1a1a" stroke-width="0.5">1000</text>
<path d="M352 394.5 V403.5" stroke="#3a3a3a" stroke-width="2.4"/>
<text x="352" y="414" font-size="15" text-anchor="middle" fill="#1a1a1a" stroke="#1a1a1a" stroke-width="0.5">2000</text>
<path d="M445 394.5 V403.5" stroke="#3a3a3a" stroke-width="2.4"/>
<text x="445" y="414" font-size="15" text-anchor="middle" fill="#1a1a1a" stroke="#1a1a1a" stroke-width="0.5">3000</text>
<path d="M537 394.5 V403.5" stroke="#3a3a3a" stroke-width="2.4"/>
<text x="537" y="414" font-size="15" text-anchor="middle" fill="#1a1a1a" stroke="#1a1a1a" stroke-width="0.5">4000</text>
<path d="M630 394.5 V403.5" stroke="#3a3a3a" stroke-width="2.4"/>
<text x="630" y="414" font-size="15" text-anchor="middle" fill="#1a1a1a" stroke="#1a1a1a" stroke-width="0.5">5000</text>
<text x="394" y="434" font-size="19.5" text-anchor="middle" textLength="80" lengthAdjust="spacingAndGlyphs" fill="#111" stroke="#111" stroke-width="0.35">Time (day)</text>
<text transform="translate(96,246.5) rotate(-90)" font-size="19.5" text-anchor="middle" textLength="150" lengthAdjust="spacingAndGlyphs" fill="#111" stroke="#111" stroke-width="0.35">Survival probability</text>
<path d="M168 112 L172 112 L172 125 L175 125 L175 135 L178 135 L178 145 L181.5 145 L181.5 152.5 L185 152.5 L185 160 L190 160 L190 167.5 L195 167.5 L195 175 L198.5 175 L198.5 185 L202 185 L202 195 L204.67 195 L204.67 203.33 L207.33 203.33 L207.33 211.67 L210 211.67 L210 220 L212.67 220 L212.67 228.33 L215.33 228.33 L215.33 236.67 L218 236.67 L218 245 L220.33 245 L220.33 252.67 L222.67 252.67 L222.67 260.33 L225 260.33 L225 268 L230 268 L230 276.5 L235 276.5 L235 285 L240 285 L240 292.5 L245 292.5 L245 300 L250 300 L250 307.5 L255 307.5 L255 315 L260 315 L260 322.5 L265 322.5 L265 330 L272.5 330 L272.5 337.5 L280 337.5 L280 345 L295 345 L295 350 L310 350 L330 350 L330 355 L350 355 L350 362 L370 362 L370 370 L385 370 L385 375 L400 375 L400 378 L525 378" fill="none" stroke="#F8766D" stroke-width="3.6" stroke-linejoin="miter"/>
<path d="M168 107 L175 107 L175 118 L178.5 118 L178.5 126.5 L182 126.5 L182 135 L186 135 L186 142.5 L190 142.5 L190 150 L195 150 L195 160 L197.5 160 L197.5 167.5 L200 167.5 L200 175 L205 175 L205 185 L210 185 L210 195 L215 195 L215 202.5 L220 202.5 L220 210 L227.5 210 L227.5 217.5 L235 217.5 L235 225 L242.5 225 L242.5 232.5 L250 232.5 L250 240 L257.5 240 L257.5 247.5 L265 247.5 L265 255 L270 255 L270 262.5 L275 262.5 L275 270 L282.5 270 L282.5 277.5 L290 277.5 L290 285 L305 285 L305 298 L320 298 L320 310 L340 310 L340 322 L360 322 L360 330 L380 330 L380 340 L400 340 L400 350 L420 350 L420 358 L440 358 L440 365 L460 365 L460 370 L500 370 L500 374 L540 374 L540 376 L600 376 L600 378 L652 378" fill="none" stroke="#00BFC4" stroke-width="3.6" stroke-linejoin="miter"/>
<text x="148" y="80.5" font-size="36.4" stroke="#111" stroke-width="0.85" textLength="162" lengthAdjust="spacingAndGlyphs" fill="#111">mTRIM28</text>
<text x="553" y="80.5" font-size="41.5" stroke="#111" stroke-width="0.7" textLength="89" lengthAdjust="spacingAndGlyphs" fill="#111">LUSC</text>
<text x="522" y="137.5" font-size="25" fill="#111" stroke="#111" stroke-width="0.25"><tspan>p = 1x10</tspan><tspan font-size="16" dy="-10">-5</tspan></text>
<text x="522" y="170.5" font-size="25" stroke="#111" stroke-width="0.25" textLength="113" lengthAdjust="spacingAndGlyphs" fill="#111">HR = 1.79</text>
</g>
<g transform="translate(0,252) scale(0.25547)">
<path d="M128 89.5 V391.5 H632" fill="none" stroke="#3a3a3a" stroke-width="2.6"/>
<path d="M119 112 H128" stroke="#3a3a3a" stroke-width="2.4"/>
<text x="117" y="117" font-size="15" text-anchor="end" fill="#1a1a1a" stroke="#1a1a1a" stroke-width="0.5">1.00</text>
<path d="M119 180.5 H128" stroke="#3a3a3a" stroke-width="2.4"/>
<text x="117" y="185.5" font-size="15" text-anchor="end" fill="#1a1a1a" stroke="#1a1a1a" stroke-width="0.5">0.75</text>
<path d="M119 249 H128" stroke="#3a3a3a" stroke-width="2.4"/>
<text x="117" y="254" font-size="15" text-anchor="end" fill="#1a1a1a" stroke="#1a1a1a" stroke-width="0.5">0.50</text>
<path d="M119 317.5 H128" stroke="#3a3a3a" stroke-width="2.4"/>
<text x="117" y="322.5" font-size="15" text-anchor="end" fill="#1a1a1a" stroke="#1a1a1a" stroke-width="0.5">0.25</text>
<path d="M119 386 H128" stroke="#3a3a3a" stroke-width="2.4"/>
<text x="117" y="391" font-size="15" text-anchor="end" fill="#1a1a1a" stroke="#1a1a1a" stroke-width="0.5">0.00</text>
<path d="M150 391.5 V400.5" stroke="#3a3a3a" stroke-width="2.4"/>
<text x="150" y="411" font-size="15" text-anchor="middle" fill="#1a1a1a" stroke="#1a1a1a" stroke-width="0.5">0</text>
<path d="M265 391.5 V400.5" stroke="#3a3a3a" stroke-width="2.4"/>
<text x="265" y="411" font-size="15" text-anchor="middle" fill="#1a1a1a" stroke="#1a1a1a" stroke-width="0.5">1000</text>
<path d="M382 391.5 V400.5" stroke="#3a3a3a" stroke-width="2.4"/>
<text x="382" y="411" font-size="15" text-anchor="middle" fill="#1a1a1a" stroke="#1a1a1a" stroke-width="0.5">2000</text>
<path d="M497 391.5 V400.5" stroke="#3a3a3a" stroke-width="2.4"/>
<text x="497" y="411" font-size="15" text-anchor="middle" fill="#1a1a1a" stroke="#1a1a1a" stroke-width="0.5">3000</text>
<path d="M612 391.5 V400.5" stroke="#3a3a3a" stroke-width="2.4"/>
<text x="612" y="411" font-size="15" text-anchor="middle" fill="#1a1a1a" stroke="#1a1a1a" stroke-width="0.5">4000</text>
<text x="374" y="431" font-size="19.5" text-anchor="middle" textLength="80" lengthAdjust="spacingAndGlyphs" fill="#111" stroke="#111" stroke-width="0.35">Time (day)</text>
<text transform="translate(76,251) rotate(-90)" font-size="19.5" text-anchor="middle" textLength="150" lengthAdjust="spacingAndGlyphs" fill="#111" stroke="#111" stroke-width="0.35">Survival probability</text>
<path d="M150 103 L165 103 L165.4 103 L165.4 112.4 L165.8 112.4 L165.8 121.8 L166.2 121.8 L166.2 131.2 L166.6 131.2 L166.6 140.6 L167 140.6 L167 150 L222 150 L222.4 150 L222.4 159 L222.8 159 L222.8 168 L223.2 168 L223.2 177 L223.6 177 L223.6 186 L224 186 L224 195 L234 195 L234.4 195 L234.4 204 L234.8 204 L234.8 213 L235.2 213 L235.2 222 L235.6 222 L235.6 231 L236 231 L236 240 L240 240 L240.4 240 L240.4 249.6 L240.8 249.6 L240.8 259.2 L241.2 259.2 L241.2 268.8 L241.6 268.8 L241.6 278.4 L242 278.4 L242 288 L250 288 L250.4 288 L250.4 296.8 L250.8 296.8 L250.8 305.6 L251.2 305.6 L251.2 314.4 L251.6 314.4 L251.6 323.2 L252 323.2 L252 332 L365 332 L365.4 332 L365.4 341.2 L365.8 341.2 L365.8 350.4 L366.2 350.4 L366.2 359.6 L366.6 359.6 L366.6 368.8 L367 368.8 L367 378" fill="none" stroke="#F8766D" stroke-width="3.6" stroke-linejoin="miter"/>
<path d="M150 103 L303 103 L303.25 103 L303.25 111.75 L303.5 111.75 L303.5 120.5 L303.75 120.5 L303.75 129.25 L304 129.25 L304 138 L304.25 138 L304.25 146.75 L304.5 146.75 L304.5 155.5 L304.75 155.5 L304.75 164.25 L305 164.25 L305 173 L435 173 L435.29 173 L435.29 182.57 L435.57 182.57 L435.57 192.14 L435.86 192.14 L435.86 201.71 L436.14 201.71 L436.14 211.29 L436.43 211.29 L436.43 220.86 L436.71 220.86 L436.71 230.43 L437 230.43 L437 240 L550 240 L550.25 240 L550.25 248.75 L550.5 248.75 L550.5 257.5 L550.75 257.5 L550.75 266.25 L551 266.25 L551 275 L551.25 275 L551.25 283.75 L551.5 283.75 L551.5 292.5 L551.75 292.5 L551.75 301.25 L552 301.25 L552 310 L555 310 L555 378" fill="none" stroke="#00BFC4" stroke-width="3.6" stroke-linejoin="miter"/>
<text x="128" y="85" font-size="36.4" stroke="#111" stroke-width="0.85" textLength="174" lengthAdjust="spacingAndGlyphs" fill="#111">mMAPRE1</text>
<text x="527" y="77.5" font-size="41.5" stroke="#111" stroke-width="0.7" textLength="95" lengthAdjust="spacingAndGlyphs" fill="#111">PRAD</text>
<text x="497" y="127.5" font-size="25" fill="#111" stroke="#111" stroke-width="0.25"><tspan>p = 1.2x10</tspan><tspan font-size="16" dy="-10">-2</tspan></text>
<text x="497" y="161.5" font-size="25" stroke="#111" stroke-width="0.25" textLength="125" lengthAdjust="spacingAndGlyphs" fill="#111">HR = 3.731</text>
</g>
<g transform="translate(170,252) scale(0.25547)">
<path d="M148 89.5 V391.5 H652" fill="none" stroke="#3a3a3a" stroke-width="2.6"/>
<path d="M139 104.5 H148" stroke="#3a3a3a" stroke-width="2.4"/>
<text x="137" y="109.5" font-size="15" text-anchor="end" fill="#1a1a1a" stroke="#1a1a1a" stroke-width="0.5">1.00</text>
<path d="M139 173 H148" stroke="#3a3a3a" stroke-width="2.4"/>
<text x="137" y="178" font-size="15" text-anchor="end" fill="#1a1a1a" stroke="#1a1a1a" stroke-width="0.5">0.75</text>
<path d="M139 241.5 H148" stroke="#3a3a3a" stroke-width="2.4"/>
<text x="137" y="246.5" font-size="15" text-anchor="end" fill="#1a1a1a" stroke="#1a1a1a" stroke-width="0.5">0.50</text>
<path d="M139 310 H148" stroke="#3a3a3a" stroke-width="2.4"/>
<text x="137" y="315" font-size="15" text-anchor="end" fill="#1a1a1a" stroke="#1a1a1a" stroke-width="0.5">0.25</text>
<path d="M139 378.5 H148" stroke="#3a3a3a" stroke-width="2.4"/>
<text x="137" y="383.5" font-size="15" text-anchor="end" fill="#1a1a1a" stroke="#1a1a1a" stroke-width="0.5">0.00</text>
<path d="M168 391.5 V400.5" stroke="#3a3a3a" stroke-width="2.4"/>
<text x="168" y="411" font-size="15" text-anchor="middle" fill="#1a1a1a" stroke="#1a1a1a" stroke-width="0.5">0</text>
<path d="M283 391.5 V400.5" stroke="#3a3a3a" stroke-width="2.4"/>
<text x="283" y="411" font-size="15" text-anchor="middle" fill="#1a1a1a" stroke="#1a1a1a" stroke-width="0.5">500</text>
<path d="M398 391.5 V400.5" stroke="#3a3a3a" stroke-width="2.4"/>
<text x="398" y="411" font-size="15" text-anchor="middle" fill="#1a1a1a" stroke="#1a1a1a" stroke-width="0.5">1000</text>
<path d="M513 391.5 V400.5" stroke="#3a3a3a" stroke-width="2.4"/>
<text x="513" y="411" font-size="15" text-anchor="middle" fill="#1a1a1a" stroke="#1a1a1a" stroke-width="0.5">1500</text>
<path d="M628 391.5 V400.5" stroke="#3a3a3a" stroke-width="2.4"/>
<text x="628" y="411" font-size="15" text-anchor="middle" fill="#1a1a1a" stroke="#1a1a1a" stroke-width="0.5">2000</text>
<text x="394" y="431" font-size="19.5" text-anchor="middle" textLength="80" lengthAdjust="spacingAndGlyphs" fill="#111" stroke="#111" stroke-width="0.35">Time (day)</text>
<text transform="translate(96,243.5) rotate(-90)" font-size="19.5" text-anchor="middle" textLength="150" lengthAdjust="spacingAndGlyphs" fill="#111" stroke="#111" stroke-width="0.35">Survival probability</text>
<path d="M168 105 L175 105 L175 112 L182 112 L182 125 L186 125 L186 132.5 L190 132.5 L190 140 L193.33 140 L193.33 148.33 L196.67 148.33 L196.67 156.67 L200 156.67 L200 165 L203.33 165 L203.33 173.33 L206.67 173.33 L206.67 181.67 L210 181.67 L210 190 L215 190 L215 200 L220 200 L220 210 L223.33 210 L223.33 218.33 L226.67 218.33 L226.67 226.67 L230 226.67 L230 235 L233.33 235 L233.33 243.33 L236.67 243.33 L236.67 251.67 L240 251.67 L240 260 L243.33 260 L243.33 270 L246.67 270 L246.67 280 L250 280 L250 290 L253.33 290 L253.33 298.33 L256.67 298.33 L256.67 306.67 L260 306.67 L260 315 L265 315 L265 322.5 L270 322.5 L270 330 L280 330 L280 335 L295 335 L295 345 L300 345 L300 352 L325 352 L350 352 L350 360 L365 360 L365 368 L385 368 L385 372 L410 372 L410 375" fill="none" stroke="#F8766D" stroke-width="3.6" stroke-linejoin="miter"/>
<path d="M168 103 L175 103 L175 105 L185 105 L185 112 L195 112 L195 120 L210 120 L210 128 L225 128 L225 135 L230 135 L230 148 L232.5 148 L232.5 156.5 L235 156.5 L235 165 L240 165 L240 178 L250 178 L250 188 L260 188 L260 198 L270 198 L270 210 L275 210 L275 217.5 L280 217.5 L280 225 L285 225 L285 232.5 L290 232.5 L290 240 L295 240 L295 247.5 L300 247.5 L300 255 L305 255 L305 262.5 L310 262.5 L310 270 L315 270 L315 277.5 L320 277.5 L320 285 L325 285 L325 292.5 L330 292.5 L330 300 L345 300 L345 310 L355 310 L355 320 L365 320 L365 330 L375 330 L375 340 L400 340 L400 342 L430 342 L430 345 L460 345 L460 350 L500 350 L500 355 L550 355 L550 358 L580 358 L580 362 L590 362 L590 368 L652 368 L652 370" fill="none" stroke="#00BFC4" stroke-width="3.6" stroke-linejoin="miter"/>
<text x="145" y="77.5" font-size="36.4" stroke="#111" stroke-width="0.85" textLength="135" lengthAdjust="spacingAndGlyphs" fill="#111">mNPM1</text>
<text x="537" y="77.5" font-size="41.5" stroke="#111" stroke-width="0.7" textLength="93" lengthAdjust="spacingAndGlyphs" fill="#111">STAD</text>
<text x="515" y="127.5" font-size="25" fill="#111" stroke="#111" stroke-width="0.25"><tspan>p = 1x10</tspan><tspan font-size="16" dy="-10">-4</tspan></text>
<text x="515" y="161.5" font-size="25" stroke="#111" stroke-width="0.25" textLength="125" lengthAdjust="spacingAndGlyphs" fill="#111">HR = 2.131</text>
</g>
<g transform="translate(340,252) scale(0.25547)">
<path d="M152 89.5 V391.5 H655" fill="none" stroke="#3a3a3a" stroke-width="2.6"/>
<path d="M143 104.5 H152" stroke="#3a3a3a" stroke-width="2.4"/>
<text x="141" y="109.5" font-size="15" text-anchor="end" fill="#1a1a1a" stroke="#1a1a1a" stroke-width="0.5">1.00</text>
<path d="M143 173 H152" stroke="#3a3a3a" stroke-width="2.4"/>
<text x="141" y="178" font-size="15" text-anchor="end" fill="#1a1a1a" stroke="#1a1a1a" stroke-width="0.5">0.75</text>
<path d="M143 241.5 H152" stroke="#3a3a3a" stroke-width="2.4"/>
<text x="141" y="246.5" font-size="15" text-anchor="end" fill="#1a1a1a" stroke="#1a1a1a" stroke-width="0.5">0.50</text>
<path d="M143 310 H152" stroke="#3a3a3a" stroke-width="2.4"/>
<text x="141" y="315" font-size="15" text-anchor="end" fill="#1a1a1a" stroke="#1a1a1a" stroke-width="0.5">0.25</text>
<path d="M143 378.5 H152" stroke="#3a3a3a" stroke-width="2.4"/>
<text x="141" y="383.5" font-size="15" text-anchor="end" fill="#1a1a1a" stroke="#1a1a1a" stroke-width="0.5">0.00</text>
<path d="M173 391.5 V400.5" stroke="#3a3a3a" stroke-width="2.4"/>
<text x="173" y="411" font-size="15" text-anchor="middle" fill="#1a1a1a" stroke="#1a1a1a" stroke-width="0.5">0</text>
<path d="M288 391.5 V400.5" stroke="#3a3a3a" stroke-width="2.4"/>
<text x="288" y="411" font-size="15" text-anchor="middle" fill="#1a1a1a" stroke="#1a1a1a" stroke-width="0.5">500</text>
<path d="M403 391.5 V400.5" stroke="#3a3a3a" stroke-width="2.4"/>
<text x="403" y="411" font-size="15" text-anchor="middle" fill="#1a1a1a" stroke="#1a1a1a" stroke-width="0.5">1000</text>
<path d="M518 391.5 V400.5" stroke="#3a3a3a" stroke-width="2.4"/>
<text x="518" y="411" font-size="15" text-anchor="middle" fill="#1a1a1a" stroke="#1a1a1a" stroke-width="0.5">1500</text>
<path d="M633 391.5 V400.5" stroke="#3a3a3a" stroke-width="2.4"/>
<text x="633" y="411" font-size="15" text-anchor="middle" fill="#1a1a1a" stroke="#1a1a1a" stroke-width="0.5">2000</text>
<text x="397.5" y="431" font-size="19.5" text-anchor="middle" textLength="80" lengthAdjust="spacingAndGlyphs" fill="#111" stroke="#111" stroke-width="0.35">Time (day)</text>
<text transform="translate(100,243.5) rotate(-90)" font-size="19.5" text-anchor="middle" textLength="150" lengthAdjust="spacingAndGlyphs" fill="#111" stroke="#111" stroke-width="0.35">Survival probability</text>
<path d="M213 103 L213.5 103 L213.5 111 L214 111 L214 119 L214.5 119 L214.5 127 L215 127 L215 135 L225 135 L225.67 135 L225.67 143.33 L226.33 143.33 L226.33 151.67 L227 151.67 L227 160 L230 160 L230 195 L340 195 L340.67 195 L340.67 205 L341.33 205 L341.33 215 L342 215 L342 225 L360 225 L360.5 225 L360.5 233.25 L361 233.25 L361 241.5 L361.5 241.5 L361.5 249.75 L362 249.75 L362 258 L388 258 L388.5 258 L388.5 266 L389 266 L389 274 L389.5 274 L389.5 282 L390 282 L390 290 L395 290 L395.67 290 L395.67 300 L396.33 300 L396.33 310 L397 310 L397 320 L405 320 L405.67 320 L405.67 330 L406.33 330 L406.33 340 L407 340 L407 350 L408 350 L408 359.33 L409 359.33 L409 368.67 L410 368.67 L410 378" fill="none" stroke="#F8766D" stroke-width="3.6" stroke-linejoin="miter"/>
<path d="M173 103 L295 103 L295.5 103 L295.5 113 L296 113 L296 123 L296.5 123 L296.5 133 L297 133 L297 143 L408 143 L408.5 143 L408.5 152.75 L409 152.75 L409 162.5 L409.5 162.5 L409.5 172.25 L410 172.25 L410 182 L490 182 L490.5 182 L490.5 191.5 L491 191.5 L491 201 L491.5 201 L491.5 210.5 L492 210.5 L492 220 L518 220 L518.5 220 L518.5 230 L519 230 L519 240 L519.5 240 L519.5 250 L520 250 L520 260 L542 260 L542.5 260 L542.5 269.5 L543 269.5 L543 279 L543.5 279 L543.5 288.5 L544 288.5 L544 298 L578 298 L578.5 298 L578.5 308 L579 308 L579 318 L579.5 318 L579.5 328 L580 328 L580 338 L600 338 L600.5 338 L600.5 348 L601 348 L601 358 L601.5 358 L601.5 368 L602 368 L602 378" fill="none" stroke="#00BFC4" stroke-width="3.6" stroke-linejoin="miter"/>
<text x="150" y="77.5" font-size="36.4" stroke="#111" stroke-width="0.85" textLength="175" lengthAdjust="spacingAndGlyphs" fill="#111">mRAD23B</text>
<text x="545" y="77.5" font-size="41.5" stroke="#111" stroke-width="0.7" textLength="97" lengthAdjust="spacingAndGlyphs" fill="#111">THCA</text>
<text x="520" y="127.5" font-size="25" fill="#111" stroke="#111" stroke-width="0.25"><tspan>p = 1x10</tspan><tspan font-size="16" dy="-10">-3</tspan></text>
<text x="520" y="161.5" font-size="25" stroke="#111" stroke-width="0.25" textLength="125" lengthAdjust="spacingAndGlyphs" fill="#111">HR = 3.686</text>
</g>
<g transform="translate(510,252) scale(0.25547)">
<path d="M148 89.5 V391.5 H652" fill="none" stroke="#3a3a3a" stroke-width="2.6"/>
<path d="M139 104.5 H148" stroke="#3a3a3a" stroke-width="2.4"/>
<text x="137" y="109.5" font-size="15" text-anchor="end" fill="#1a1a1a" stroke="#1a1a1a" stroke-width="0.5">1.00</text>
<path d="M139 173 H148" stroke="#3a3a3a" stroke-width="2.4"/>
<text x="137" y="178" font-size="15" text-anchor="end" fill="#1a1a1a" stroke="#1a1a1a" stroke-width="0.5">0.75</text>
<path d="M139 241.5 H148" stroke="#3a3a3a" stroke-width="2.4"/>
<text x="137" y="246.5" font-size="15" text-anchor="end" fill="#1a1a1a" stroke="#1a1a1a" stroke-width="0.5">0.50</text>
<path d="M139 310 H148" stroke="#3a3a3a" stroke-width="2.4"/>
<text x="137" y="315" font-size="15" text-anchor="end" fill="#1a1a1a" stroke="#1a1a1a" stroke-width="0.5">0.25</text>
<path d="M139 378.5 H148" stroke="#3a3a3a" stroke-width="2.4"/>
<text x="137" y="383.5" font-size="15" text-anchor="end" fill="#1a1a1a" stroke="#1a1a1a" stroke-width="0.5">0.00</text>
<path d="M170 391.5 V400.5" stroke="#3a3a3a" stroke-width="2.4"/>
<text x="170" y="411" font-size="15" text-anchor="middle" fill="#1a1a1a" stroke="#1a1a1a" stroke-width="0.5">0</text>
<path d="M322 391.5 V400.5" stroke="#3a3a3a" stroke-width="2.4"/>
<text x="322" y="411" font-size="15" text-anchor="middle" fill="#1a1a1a" stroke="#1a1a1a" stroke-width="0.5">1000</text>
<path d="M475 391.5 V400.5" stroke="#3a3a3a" stroke-width="2.4"/>
<text x="475" y="411" font-size="15" text-anchor="middle" fill="#1a1a1a" stroke="#1a1a1a" stroke-width="0.5">2000</text>
<path d="M630 391.5 V400.5" stroke="#3a3a3a" stroke-width="2.4"/>
<text x="630" y="411" font-size="15" text-anchor="middle" fill="#1a1a1a" stroke="#1a1a1a" stroke-width="0.5">3000</text>
<text x="394" y="431" font-size="19.5" text-anchor="middle" textLength="80" lengthAdjust="spacingAndGlyphs" fill="#111" stroke="#111" stroke-width="0.35">Time (day)</text>
<text transform="translate(96,243.5) rotate(-90)" font-size="19.5" text-anchor="middle" textLength="150" lengthAdjust="spacingAndGlyphs" fill="#111" stroke="#111" stroke-width="0.35">Survival probability</text>
<path d="M170 103 L178 103 L178 110 L181.5 110 L181.5 117.5 L185 117.5 L185 125 L187.5 125 L187.5 135 L190 135 L190 145 L200 145 L200 158 L210 158 L210 168 L215 168 L215 176.5 L220 176.5 L220 185 L224 185 L224 195 L228 195 L228 205 L234 205 L234 215 L240 215 L240 225 L245 225 L245 232.5 L250 232.5 L250 240 L255 240 L255 247.5 L260 247.5 L260 255 L270 255 L270 268 L280 268 L280 280 L285 280 L285 287.5 L290 287.5 L290 295 L300 295 L300 305 L310 305 L310 310 L315 310 L315 315 L316 315 L316 323.33 L317 323.33 L317 331.67 L318 331.67 L318 340 L321.5 340 L321.5 347.5 L325 347.5 L325 355 L340 355 L340 365 L360 365 L360 372 L380 372 L410 372 L410 375" fill="none" stroke="#F8766D" stroke-width="3.6" stroke-linejoin="miter"/>
<path d="M170 103 L185 103 L190 103 L190 110 L215 110 L217.5 110 L217.5 117.5 L220 117.5 L220 125 L225 125 L225 132.5 L230 132.5 L230 140 L232.5 140 L232.5 147.5 L235 147.5 L235 155 L260 155 L265 155 L265 162 L270 162 L270 175 L290 175 L295 175 L295 185 L300 185 L300 195 L302.5 195 L302.5 202.5 L305 202.5 L305 210 L310 210 L310 220 L315 220 L315 230 L320 230 L320 237.5 L325 237.5 L325 245 L330 245 L330 252.5 L335 252.5 L335 260 L345 260 L345 268 L355 268 L355 275 L375 275 L377.5 275 L377.5 282.5 L380 282.5 L380 290 L390 290 L390 300 L400 300 L400 310 L440 310 L445 310 L445 320 L460 320 L460 325 L470 325 L470 335 L515 335 L525 335 L525 340 L535 340 L535 348 L645 348 L650 348 L650 355" fill="none" stroke="#00BFC4" stroke-width="3.6" stroke-linejoin="miter"/>
<text x="148" y="77.5" font-size="36.4" stroke="#111" stroke-width="0.85" textLength="170" lengthAdjust="spacingAndGlyphs" fill="#111">mPPP1CA</text>
<text x="550" y="77.5" font-size="41.5" stroke="#111" stroke-width="0.7" textLength="95" lengthAdjust="spacingAndGlyphs" fill="#111">UCEC</text>
<text x="517" y="127.5" font-size="25" fill="#111" stroke="#111" stroke-width="0.25"><tspan>p = 2x10</tspan><tspan font-size="16" dy="-10">-7</tspan></text>
<text x="517" y="161.5" font-size="25" stroke="#111" stroke-width="0.25" textLength="123" lengthAdjust="spacingAndGlyphs" fill="#111">HR = 2.665</text>
</g>
<path d="M275.2 376.8 H288.8" stroke="#F8766D" stroke-width="1.9"/>
<path d="M365.7 376.8 H379.9" stroke="#00BFC4" stroke-width="1.9"/>
<text x="295" y="379.9" font-size="9.9" stroke="#111" stroke-width="0.12" textLength="61.4" lengthAdjust="spacingAndGlyphs" fill="#111">High risk group</text>
<text x="386.1" y="379.9" font-size="9.9" stroke="#111" stroke-width="0.12" textLength="58.4" lengthAdjust="spacingAndGlyphs" fill="#111">Low risk group</text>
<circle cx="123.94" cy="444.36" r="2.1" fill="#00FFFF"/>
<circle cx="118.34" cy="448.92" r="2.1" fill="#00FFFF"/>
<circle cx="119.62" cy="460.01" r="2.1" fill="#00FFFF"/>
<circle cx="120.67" cy="477.07" r="2.1" fill="#00FFFF"/>
<circle cx="127.56" cy="477.07" r="2.1" fill="#00FFFF"/>
<circle cx="171.24" cy="485.82" r="2.1" fill="#00FFFF"/>
<circle cx="126.86" cy="487.46" r="2.1" fill="#00FFFF"/>
<circle cx="128.03" cy="490.73" r="2.1" fill="#00FFFF"/>
<circle cx="131.53" cy="491.31" r="2.1" fill="#00FFFF"/>
<circle cx="135.62" cy="493.65" r="2.1" fill="#00FFFF"/>
<circle cx="141.11" cy="492.72" r="2.1" fill="#00FFFF"/>
<circle cx="123.01" cy="493.65" r="2.1" fill="#00FFFF"/>
<circle cx="143.8" cy="498.32" r="2.1" fill="#00FFFF"/>
<circle cx="129.2" cy="494.23" r="2.1" fill="#00FFFF"/>
<circle cx="126.86" cy="497.74" r="2.1" fill="#00FFFF"/>
<circle cx="130.36" cy="496.57" r="2.1" fill="#00FFFF"/>
<circle cx="133.87" cy="499.49" r="2.1" fill="#00FFFF"/>
<circle cx="136.79" cy="500.66" r="2.1" fill="#00FFFF"/>
<circle cx="139.12" cy="502.41" r="2.1" fill="#00FFFF"/>
<circle cx="125.69" cy="502.41" r="2.1" fill="#00FFFF"/>
<circle cx="128.61" cy="504.74" r="2.1" fill="#00FFFF"/>
<circle cx="132.7" cy="504.74" r="2.1" fill="#00FFFF"/>
<circle cx="135.04" cy="506.5" r="2.1" fill="#00FFFF"/>
<circle cx="139.12" cy="507.08" r="2.1" fill="#00FFFF"/>
<circle cx="139.71" cy="510.58" r="2.1" fill="#00FFFF"/>
<circle cx="137.37" cy="511.75" r="2.1" fill="#00FFFF"/>
<circle cx="129.2" cy="509.42" r="2.1" fill="#00FFFF"/>
<circle cx="130.95" cy="511.75" r="2.1" fill="#00FFFF"/>
<circle cx="132.7" cy="514.67" r="2.1" fill="#00FFFF"/>
<circle cx="132.7" cy="518.18" r="2.1" fill="#00FFFF"/>
<circle cx="126.86" cy="500.07" r="2.1" fill="#00FFFF"/>
<circle cx="130.36" cy="501.24" r="2.1" fill="#00FFFF"/>
<circle cx="135.04" cy="503.58" r="2.1" fill="#00FFFF"/>
<circle cx="129.2" cy="507.08" r="2.1" fill="#00FFFF"/>
<circle cx="127.45" cy="511.75" r="2.1" fill="#00FFFF"/>
<circle cx="119.85" cy="494.82" r="2.1" fill="#FF0000"/>
<circle cx="120.44" cy="498.32" r="2.1" fill="#FF0000"/>
<circle cx="122.19" cy="504.74" r="2.1" fill="#FF0000"/>
<circle cx="124.53" cy="507.08" r="2.1" fill="#FF0000"/>
<circle cx="123.94" cy="510.58" r="2.1" fill="#FF0000"/>
<circle cx="123.36" cy="514.09" r="2.1" fill="#FF0000"/>
<circle cx="126.28" cy="514.67" r="2.1" fill="#FF0000"/>
<circle cx="121.61" cy="519.34" r="2.1" fill="#FF0000"/>
<circle cx="125.69" cy="518.76" r="2.1" fill="#FF0000"/>
<circle cx="128.03" cy="517.01" r="2.1" fill="#FF0000"/>
<circle cx="129.78" cy="519.93" r="2.1" fill="#FF0000"/>
<circle cx="126.28" cy="522.26" r="2.1" fill="#FF0000"/>
<circle cx="130.95" cy="523.2" r="2.1" fill="#FF0000"/>
<circle cx="129.78" cy="525.77" r="2.1" fill="#FF0000"/>
<circle cx="128.03" cy="523.43" r="2.1" fill="#FF0000"/>
<text x="41.9" y="422.8" font-size="10.75" stroke="#111" stroke-width="0.13" textLength="31.23" lengthAdjust="spacingAndGlyphs" fill="#111">mCLTC</text>
<text x="185.68" y="422.8" font-size="10.75" stroke="#111" stroke-width="0.13" textLength="24.18" lengthAdjust="spacingAndGlyphs" fill="#111">BRCA</text>
<text x="36.3" y="430.97" font-size="9.2" text-anchor="end" textLength="13.97" lengthAdjust="spacingAndGlyphs" fill="#2a2a2a">150</text>
<text x="36.3" y="457.8" font-size="9.2" text-anchor="end" textLength="13.97" lengthAdjust="spacingAndGlyphs" fill="#2a2a2a">100</text>
<text x="36.3" y="484.3" font-size="9.2" text-anchor="end" textLength="9.31" lengthAdjust="spacingAndGlyphs" fill="#2a2a2a">50</text>
<text x="36.3" y="511.14" font-size="9.2" text-anchor="end" textLength="4.66" lengthAdjust="spacingAndGlyphs" fill="#2a2a2a">0</text>
<text x="36.3" y="537.97" font-size="9.2" text-anchor="end" textLength="12.1" lengthAdjust="spacingAndGlyphs" fill="#2a2a2a">-50</text>
<text x="41.15" y="547.5" font-size="9.2" text-anchor="middle" textLength="16.75" lengthAdjust="spacingAndGlyphs" fill="#2a2a2a">-500</text>
<text x="128.31" y="547.5" font-size="9.2" text-anchor="middle" textLength="4.66" lengthAdjust="spacingAndGlyphs" fill="#2a2a2a">0</text>
<text x="215.48" y="547.5" font-size="9.2" text-anchor="middle" textLength="13.97" lengthAdjust="spacingAndGlyphs" fill="#2a2a2a">500</text>
<text x="126.8" y="561.5" font-size="9.9" text-anchor="middle" textLength="15.45" lengthAdjust="spacingAndGlyphs" fill="#2a2a2a">PC1</text>
<text transform="translate(16.05,481.3) rotate(-90)" font-size="9.9" text-anchor="middle" textLength="16.1" lengthAdjust="spacingAndGlyphs" fill="#2a2a2a">PC2</text>
<rect x="41.5" y="426.5" width="175" height="107" fill="none" stroke="#7a7a7a" stroke-width="1"/>
<path d="M42 453.5 H43.6 M216 453.5 H214.4 M42 479.5 H43.6 M216 479.5 H214.4 M42 506.5 H43.6 M216 506.5 H214.4 M128.5 533 V531.4 M128.5 427 V428.6" stroke="#7a7a7a" stroke-width="1" fill="none"/>
<circle cx="370.29" cy="443.08" r="2.1" fill="#00FFFF"/>
<circle cx="376.72" cy="449.5" r="2.1" fill="#00FFFF"/>
<circle cx="390.96" cy="458.03" r="2.1" fill="#00FFFF"/>
<circle cx="366.2" cy="464.8" r="2.1" fill="#00FFFF"/>
<circle cx="355.93" cy="470.06" r="2.1" fill="#00FFFF"/>
<circle cx="362.12" cy="470.64" r="2.1" fill="#00FFFF"/>
<circle cx="362.47" cy="471.81" r="2.1" fill="#00FFFF"/>
<circle cx="366.79" cy="470.06" r="2.1" fill="#00FFFF"/>
<circle cx="358.03" cy="474.15" r="2.1" fill="#00FFFF"/>
<circle cx="374.38" cy="472.98" r="2.1" fill="#00FFFF"/>
<circle cx="367.37" cy="475.55" r="2.1" fill="#00FFFF"/>
<circle cx="364.45" cy="477.3" r="2.1" fill="#00FFFF"/>
<circle cx="361.53" cy="478.47" r="2.1" fill="#00FFFF"/>
<circle cx="359.78" cy="479.99" r="2.1" fill="#00FFFF"/>
<circle cx="363.87" cy="480.22" r="2.1" fill="#00FFFF"/>
<circle cx="366.2" cy="479.64" r="2.1" fill="#00FFFF"/>
<circle cx="369.12" cy="479.05" r="2.1" fill="#00FFFF"/>
<circle cx="370.88" cy="480.22" r="2.1" fill="#00FFFF"/>
<circle cx="373.21" cy="481.97" r="2.1" fill="#00FFFF"/>
<circle cx="376.72" cy="481.04" r="2.1" fill="#00FFFF"/>
<circle cx="381.15" cy="482.2" r="2.1" fill="#00FFFF"/>
<circle cx="370.29" cy="483.14" r="2.1" fill="#00FFFF"/>
<circle cx="366.2" cy="485.47" r="2.1" fill="#00FFFF"/>
<circle cx="362.7" cy="486.06" r="2.1" fill="#00FFFF"/>
<circle cx="360.36" cy="486.06" r="2.1" fill="#00FFFF"/>
<circle cx="361.53" cy="487.81" r="2.1" fill="#00FFFF"/>
<circle cx="355.11" cy="484.07" r="2.1" fill="#00FFFF"/>
<circle cx="373.21" cy="490.15" r="2.1" fill="#00FFFF"/>
<circle cx="374.96" cy="488.98" r="2.1" fill="#00FFFF"/>
<circle cx="386.41" cy="490.96" r="2.1" fill="#00FFFF"/>
<circle cx="385.82" cy="492.83" r="2.1" fill="#00FFFF"/>
<circle cx="342.61" cy="508.48" r="2.1" fill="#00FFFF"/>
<circle cx="396.57" cy="507.31" r="2.1" fill="#00FFFF"/>
<circle cx="365.04" cy="483.14" r="2.1" fill="#00FFFF"/>
<circle cx="368.54" cy="481.97" r="2.1" fill="#00FFFF"/>
<circle cx="347.28" cy="469.71" r="2.1" fill="#FF0000"/>
<circle cx="351.96" cy="469.47" r="2.1" fill="#FF0000"/>
<circle cx="353.94" cy="472.63" r="2.1" fill="#FF0000"/>
<circle cx="349.27" cy="474.96" r="2.1" fill="#FF0000"/>
<circle cx="352.19" cy="477.3" r="2.1" fill="#FF0000"/>
<circle cx="346.35" cy="477.88" r="2.1" fill="#FF0000"/>
<circle cx="348.69" cy="479.05" r="2.1" fill="#FF0000"/>
<circle cx="341.68" cy="480.45" r="2.1" fill="#FF0000"/>
<circle cx="344.6" cy="481.39" r="2.1" fill="#FF0000"/>
<circle cx="347.52" cy="481.97" r="2.1" fill="#FF0000"/>
<circle cx="350.44" cy="480.8" r="2.1" fill="#FF0000"/>
<circle cx="341.09" cy="483.14" r="2.1" fill="#FF0000"/>
<circle cx="344.01" cy="483.72" r="2.1" fill="#FF0000"/>
<circle cx="347.52" cy="484.31" r="2.1" fill="#FF0000"/>
<circle cx="351.61" cy="484.89" r="2.1" fill="#FF0000"/>
<circle cx="344.6" cy="486.64" r="2.1" fill="#FF0000"/>
<circle cx="342.26" cy="484.89" r="2.1" fill="#FF0000"/>
<circle cx="345.77" cy="476.72" r="2.1" fill="#FF0000"/>
<text x="271.9" y="422.8" font-size="10.75" stroke="#111" stroke-width="0.13" textLength="28.54" lengthAdjust="spacingAndGlyphs" fill="#111">mMYC</text>
<text x="414.71" y="422.8" font-size="10.75" stroke="#111" stroke-width="0.13" textLength="26.19" lengthAdjust="spacingAndGlyphs" fill="#111">COAD</text>
<text x="265.6" y="430.97" font-size="9.2" text-anchor="end" textLength="13.97" lengthAdjust="spacingAndGlyphs" fill="#2a2a2a">200</text>
<text x="265.6" y="457.8" font-size="9.2" text-anchor="end" textLength="13.97" lengthAdjust="spacingAndGlyphs" fill="#2a2a2a">100</text>
<text x="265.6" y="484.3" font-size="9.2" text-anchor="end" textLength="4.66" lengthAdjust="spacingAndGlyphs" fill="#2a2a2a">0</text>
<text x="265.6" y="511.14" font-size="9.2" text-anchor="end" textLength="16.75" lengthAdjust="spacingAndGlyphs" fill="#2a2a2a">-100</text>
<text x="265.6" y="537.97" font-size="9.2" text-anchor="end" textLength="16.75" lengthAdjust="spacingAndGlyphs" fill="#2a2a2a">-200</text>
<text x="271.15" y="547.5" font-size="9.2" text-anchor="middle" textLength="16.75" lengthAdjust="spacingAndGlyphs" fill="#2a2a2a">-500</text>
<text x="357.98" y="547.5" font-size="9.2" text-anchor="middle" textLength="4.66" lengthAdjust="spacingAndGlyphs" fill="#2a2a2a">0</text>
<text x="445.15" y="547.5" font-size="9.2" text-anchor="middle" textLength="13.97" lengthAdjust="spacingAndGlyphs" fill="#2a2a2a">500</text>
<text x="356.3" y="561.5" font-size="9.9" text-anchor="middle" textLength="15.45" lengthAdjust="spacingAndGlyphs" fill="#2a2a2a">PC1</text>
<text transform="translate(241.72,481.3) rotate(-90)" font-size="9.9" text-anchor="middle" textLength="16.1" lengthAdjust="spacingAndGlyphs" fill="#2a2a2a">PC2</text>
<rect x="271.5" y="426.5" width="174" height="107" fill="none" stroke="#7a7a7a" stroke-width="1"/>
<path d="M272 453.5 H273.6 M445 453.5 H443.4 M272 479.5 H273.6 M445 479.5 H443.4 M272 506.5 H273.6 M445 506.5 H443.4 M358.5 533 V531.4 M358.5 427 V428.6" stroke="#7a7a7a" stroke-width="1" fill="none"/>
<circle cx="590.15" cy="433.21" r="2.1" fill="#00FFFF"/>
<circle cx="586.13" cy="472.56" r="2.1" fill="#00FFFF"/>
<circle cx="594.97" cy="477.05" r="2.1" fill="#00FFFF"/>
<circle cx="597.05" cy="480.59" r="2.1" fill="#00FFFF"/>
<circle cx="609.1" cy="474.64" r="2.1" fill="#00FFFF"/>
<circle cx="603.48" cy="481.07" r="2.1" fill="#00FFFF"/>
<circle cx="605.4" cy="482.19" r="2.1" fill="#00FFFF"/>
<circle cx="604.28" cy="484.28" r="2.1" fill="#00FFFF"/>
<circle cx="586.13" cy="484.6" r="2.1" fill="#00FFFF"/>
<circle cx="586.61" cy="485.89" r="2.1" fill="#00FFFF"/>
<circle cx="594.16" cy="485.89" r="2.1" fill="#00FFFF"/>
<circle cx="595.77" cy="484.92" r="2.1" fill="#00FFFF"/>
<circle cx="618.73" cy="485.08" r="2.1" fill="#00FFFF"/>
<circle cx="634.31" cy="490.22" r="2.1" fill="#00FFFF"/>
<circle cx="601.71" cy="490.22" r="2.1" fill="#00FFFF"/>
<circle cx="580.99" cy="489.74" r="2.1" fill="#00FFFF"/>
<circle cx="587.74" cy="495.52" r="2.1" fill="#00FFFF"/>
<circle cx="610.22" cy="499.38" r="2.1" fill="#00FFFF"/>
<circle cx="580.99" cy="500.66" r="2.1" fill="#00FFFF"/>
<circle cx="582.92" cy="502.27" r="2.1" fill="#00FFFF"/>
<circle cx="585.65" cy="503.55" r="2.1" fill="#00FFFF"/>
<circle cx="596.89" cy="502.27" r="2.1" fill="#00FFFF"/>
<circle cx="599.78" cy="504.67" r="2.1" fill="#00FFFF"/>
<circle cx="602.19" cy="503.07" r="2.1" fill="#00FFFF"/>
<circle cx="608.62" cy="511.58" r="2.1" fill="#00FFFF"/>
<circle cx="596.09" cy="510.3" r="2.1" fill="#00FFFF"/>
<circle cx="592.56" cy="515.59" r="2.1" fill="#00FFFF"/>
<circle cx="586.13" cy="513.19" r="2.1" fill="#00FFFF"/>
<circle cx="600.1" cy="517.84" r="2.1" fill="#00FFFF"/>
<circle cx="587.26" cy="518.33" r="2.1" fill="#00FFFF"/>
<circle cx="589.34" cy="519.61" r="2.1" fill="#00FFFF"/>
<circle cx="588.54" cy="522.82" r="2.1" fill="#00FFFF"/>
<circle cx="602.19" cy="522.82" r="2.1" fill="#00FFFF"/>
<circle cx="602.19" cy="527.16" r="2.1" fill="#00FFFF"/>
<circle cx="590.95" cy="528.28" r="2.1" fill="#00FFFF"/>
<circle cx="588.54" cy="530.85" r="2.1" fill="#00FFFF"/>
<circle cx="587.74" cy="531.49" r="2.1" fill="#00FFFF"/>
<circle cx="623.07" cy="530.37" r="2.1" fill="#00FFFF"/>
<circle cx="643.62" cy="524.27" r="2.1" fill="#00FFFF"/>
<circle cx="660" cy="483" r="2.1" fill="#00FFFF"/>
<circle cx="586.13" cy="454.57" r="2.1" fill="#FF0000"/>
<circle cx="582.12" cy="462.12" r="2.1" fill="#FF0000"/>
<circle cx="582.12" cy="466.61" r="2.1" fill="#FF0000"/>
<circle cx="578.91" cy="469.83" r="2.1" fill="#FF0000"/>
<circle cx="576.98" cy="472.07" r="2.1" fill="#FF0000"/>
<circle cx="579.23" cy="475.29" r="2.1" fill="#FF0000"/>
<circle cx="581.32" cy="476.25" r="2.1" fill="#FF0000"/>
<circle cx="568.15" cy="481.71" r="2.1" fill="#FF0000"/>
<circle cx="572.96" cy="481.71" r="2.1" fill="#FF0000"/>
<circle cx="577.78" cy="482.19" r="2.1" fill="#FF0000"/>
<circle cx="568.95" cy="487.33" r="2.1" fill="#FF0000"/>
<circle cx="574.89" cy="491.02" r="2.1" fill="#FF0000"/>
<circle cx="572.48" cy="492.63" r="2.1" fill="#FF0000"/>
<circle cx="570.88" cy="494.24" r="2.1" fill="#FF0000"/>
<circle cx="582.92" cy="489.9" r="2.1" fill="#FF0000"/>
<circle cx="575.69" cy="496.16" r="2.1" fill="#FF0000"/>
<circle cx="569.27" cy="497.13" r="2.1" fill="#FF0000"/>
<circle cx="574.09" cy="498.25" r="2.1" fill="#FF0000"/>
<circle cx="576.5" cy="499.05" r="2.1" fill="#FF0000"/>
<circle cx="573.29" cy="500.66" r="2.1" fill="#FF0000"/>
<circle cx="566.86" cy="501.14" r="2.1" fill="#FF0000"/>
<circle cx="571.68" cy="503.87" r="2.1" fill="#FF0000"/>
<circle cx="579.71" cy="506.28" r="2.1" fill="#FF0000"/>
<circle cx="565.26" cy="507.08" r="2.1" fill="#FF0000"/>
<circle cx="568.47" cy="507.89" r="2.1" fill="#FF0000"/>
<circle cx="572.48" cy="508.37" r="2.1" fill="#FF0000"/>
<circle cx="568.95" cy="511.58" r="2.1" fill="#FF0000"/>
<circle cx="570.07" cy="513.83" r="2.1" fill="#FF0000"/>
<circle cx="572.48" cy="514.31" r="2.1" fill="#FF0000"/>
<circle cx="578.1" cy="512.7" r="2.1" fill="#FF0000"/>
<circle cx="579.39" cy="519.45" r="2.1" fill="#FF0000"/>
<circle cx="581.64" cy="520.25" r="2.1" fill="#FF0000"/>
<circle cx="555.62" cy="516.24" r="2.1" fill="#FF0000"/>
<circle cx="585.65" cy="495.52" r="2.1" fill="#FF0000"/>
<circle cx="593.68" cy="512.7" r="2.1" fill="#FF0000"/>
<circle cx="623.55" cy="482.19" r="2.1" fill="#FF0000"/>
<circle cx="574.89" cy="499.86" r="2.1" fill="#FF0000"/>
<text x="500.9" y="422.8" font-size="10.75" stroke="#111" stroke-width="0.13" textLength="39.62" lengthAdjust="spacingAndGlyphs" fill="#111">mPSMD2</text>
<text x="645.38" y="422.8" font-size="10.75" stroke="#111" stroke-width="0.13" textLength="25.18" lengthAdjust="spacingAndGlyphs" fill="#111">HNSC</text>
<text x="494.9" y="430.97" font-size="9.2" text-anchor="end" textLength="13.97" lengthAdjust="spacingAndGlyphs" fill="#2a2a2a">200</text>
<text x="494.9" y="466.86" font-size="9.2" text-anchor="end" textLength="13.97" lengthAdjust="spacingAndGlyphs" fill="#2a2a2a">100</text>
<text x="494.9" y="502.75" font-size="9.2" text-anchor="end" textLength="4.66" lengthAdjust="spacingAndGlyphs" fill="#2a2a2a">0</text>
<text x="494.9" y="537.97" font-size="9.2" text-anchor="end" textLength="16.75" lengthAdjust="spacingAndGlyphs" fill="#2a2a2a">-100</text>
<text x="500.15" y="547.5" font-size="9.2" text-anchor="middle" textLength="16.75" lengthAdjust="spacingAndGlyphs" fill="#2a2a2a">-500</text>
<text x="587.65" y="547.5" font-size="9.2" text-anchor="middle" textLength="4.66" lengthAdjust="spacingAndGlyphs" fill="#2a2a2a">0</text>
<text x="675.15" y="547.5" font-size="9.2" text-anchor="middle" textLength="13.97" lengthAdjust="spacingAndGlyphs" fill="#2a2a2a">500</text>
<text x="585.8" y="561.5" font-size="9.9" text-anchor="middle" textLength="15.45" lengthAdjust="spacingAndGlyphs" fill="#2a2a2a">PC1</text>
<text transform="translate(471.72,481.3) rotate(-90)" font-size="9.9" text-anchor="middle" textLength="16.1" lengthAdjust="spacingAndGlyphs" fill="#2a2a2a">PC2</text>
<rect x="500.5" y="426.5" width="175" height="107" fill="none" stroke="#7a7a7a" stroke-width="1"/>
<path d="M501 462.5 H502.6 M675 462.5 H673.4 M501 498.5 H502.6 M675 498.5 H673.4 M588.5 533 V531.4 M588.5 427 V428.6" stroke="#7a7a7a" stroke-width="1" fill="none"/>
<circle cx="152.3" cy="600.15" r="2.1" fill="#00FFFF"/>
<circle cx="142.01" cy="612.3" r="2.1" fill="#00FFFF"/>
<circle cx="132.92" cy="633.54" r="2.1" fill="#00FFFF"/>
<circle cx="136.21" cy="653.03" r="2.1" fill="#00FFFF"/>
<circle cx="129.64" cy="656.32" r="2.1" fill="#00FFFF"/>
<circle cx="132.92" cy="656.86" r="2.1" fill="#00FFFF"/>
<circle cx="134.56" cy="657.96" r="2.1" fill="#00FFFF"/>
<circle cx="137.3" cy="657.41" r="2.1" fill="#00FFFF"/>
<circle cx="128.54" cy="659.05" r="2.1" fill="#00FFFF"/>
<circle cx="131.28" cy="659.6" r="2.1" fill="#00FFFF"/>
<circle cx="134.02" cy="660.15" r="2.1" fill="#00FFFF"/>
<circle cx="136.75" cy="659.6" r="2.1" fill="#00FFFF"/>
<circle cx="138.94" cy="660.7" r="2.1" fill="#00FFFF"/>
<circle cx="141.68" cy="660.15" r="2.1" fill="#00FFFF"/>
<circle cx="126.9" cy="661.79" r="2.1" fill="#00FFFF"/>
<circle cx="129.64" cy="662.89" r="2.1" fill="#00FFFF"/>
<circle cx="132.37" cy="662.34" r="2.1" fill="#00FFFF"/>
<circle cx="135.66" cy="661.79" r="2.1" fill="#00FFFF"/>
<circle cx="138.4" cy="662.89" r="2.1" fill="#00FFFF"/>
<circle cx="141.13" cy="662.89" r="2.1" fill="#00FFFF"/>
<circle cx="143.32" cy="664.53" r="2.1" fill="#00FFFF"/>
<circle cx="147.15" cy="660.15" r="2.1" fill="#00FFFF"/>
<circle cx="149.34" cy="661.79" r="2.1" fill="#00FFFF"/>
<circle cx="154.82" cy="661.57" r="2.1" fill="#00FFFF"/>
<circle cx="157.01" cy="665.08" r="2.1" fill="#00FFFF"/>
<circle cx="131.28" cy="664.53" r="2.1" fill="#00FFFF"/>
<circle cx="134.56" cy="664.53" r="2.1" fill="#00FFFF"/>
<circle cx="137.85" cy="665.08" r="2.1" fill="#00FFFF"/>
<circle cx="141.13" cy="666.72" r="2.1" fill="#00FFFF"/>
<circle cx="143.87" cy="665.62" r="2.1" fill="#00FFFF"/>
<circle cx="146.61" cy="665.95" r="2.1" fill="#00FFFF"/>
<circle cx="151.53" cy="667.48" r="2.1" fill="#00FFFF"/>
<circle cx="137.3" cy="669.78" r="2.1" fill="#00FFFF"/>
<circle cx="131.06" cy="674.16" r="2.1" fill="#00FFFF"/>
<circle cx="147.7" cy="676.02" r="2.1" fill="#00FFFF"/>
<circle cx="159.75" cy="672.74" r="2.1" fill="#00FFFF"/>
<circle cx="171.24" cy="672.74" r="2.1" fill="#00FFFF"/>
<circle cx="119.78" cy="660.15" r="2.1" fill="#00FFFF"/>
<circle cx="122.52" cy="660.15" r="2.1" fill="#00FFFF"/>
<circle cx="125.26" cy="661.24" r="2.1" fill="#00FFFF"/>
<circle cx="122.52" cy="645.91" r="2.1" fill="#FF0000"/>
<circle cx="121.97" cy="649.75" r="2.1" fill="#FF0000"/>
<circle cx="117.59" cy="654.13" r="2.1" fill="#FF0000"/>
<circle cx="120.88" cy="654.67" r="2.1" fill="#FF0000"/>
<circle cx="123.07" cy="655.77" r="2.1" fill="#FF0000"/>
<circle cx="115.95" cy="658.51" r="2.1" fill="#FF0000"/>
<circle cx="118.69" cy="658.29" r="2.1" fill="#FF0000"/>
<circle cx="115.4" cy="661.24" r="2.1" fill="#FF0000"/>
<circle cx="117.59" cy="661.79" r="2.1" fill="#FF0000"/>
<circle cx="115.95" cy="663.43" r="2.1" fill="#FF0000"/>
<circle cx="119.23" cy="663.43" r="2.1" fill="#FF0000"/>
<circle cx="121.42" cy="663.43" r="2.1" fill="#FF0000"/>
<circle cx="118.14" cy="664.86" r="2.1" fill="#FF0000"/>
<circle cx="120.33" cy="660.7" r="2.1" fill="#FF0000"/>
<circle cx="122.52" cy="657.96" r="2.1" fill="#FF0000"/>
<text x="41.9" y="575.8" font-size="10.75" stroke="#111" stroke-width="0.13" textLength="34.58" lengthAdjust="spacingAndGlyphs" fill="#111">mNPM1</text>
<text x="190.38" y="575.8" font-size="10.75" stroke="#111" stroke-width="0.13" textLength="19.47" lengthAdjust="spacingAndGlyphs" fill="#111">KIRC</text>
<text x="35.2" y="583.97" font-size="9.2" text-anchor="end" textLength="18.62" lengthAdjust="spacingAndGlyphs" fill="#2a2a2a">3000</text>
<text x="35.2" y="610.89" font-size="9.2" text-anchor="end" textLength="18.62" lengthAdjust="spacingAndGlyphs" fill="#2a2a2a">2000</text>
<text x="35.2" y="637.81" font-size="9.2" text-anchor="end" textLength="18.62" lengthAdjust="spacingAndGlyphs" fill="#2a2a2a">1000</text>
<text x="35.2" y="664.72" font-size="9.2" text-anchor="end" textLength="4.66" lengthAdjust="spacingAndGlyphs" fill="#2a2a2a">0</text>
<text x="35.2" y="690.97" font-size="9.2" text-anchor="end" textLength="21.41" lengthAdjust="spacingAndGlyphs" fill="#2a2a2a">-1000</text>
<text x="41.15" y="700.5" font-size="9.2" text-anchor="middle" textLength="21.41" lengthAdjust="spacingAndGlyphs" fill="#2a2a2a">-5000</text>
<text x="128.65" y="700.5" font-size="9.2" text-anchor="middle" textLength="4.66" lengthAdjust="spacingAndGlyphs" fill="#2a2a2a">0</text>
<text x="216.15" y="700.5" font-size="9.2" text-anchor="middle" textLength="18.62" lengthAdjust="spacingAndGlyphs" fill="#2a2a2a">5000</text>
<text x="126.8" y="714.5" font-size="9.9" text-anchor="middle" textLength="15.45" lengthAdjust="spacingAndGlyphs" fill="#2a2a2a">PC1</text>
<text transform="translate(6.65,634.3) rotate(-90)" font-size="9.9" text-anchor="middle" textLength="16.1" lengthAdjust="spacingAndGlyphs" fill="#2a2a2a">PC2</text>
<rect x="41.5" y="579.5" width="175" height="107" fill="none" stroke="#7a7a7a" stroke-width="1"/>
<path d="M42 606.5 H43.6 M216 606.5 H214.4 M42 633.5 H43.6 M216 633.5 H214.4 M42 660.5 H43.6 M216 660.5 H214.4 M129.5 686 V684.4 M129.5 580 V581.6" stroke="#7a7a7a" stroke-width="1" fill="none"/>
<circle cx="390.2" cy="584.58" r="2.1" fill="#00FFFF"/>
<circle cx="370.05" cy="595.66" r="2.1" fill="#00FFFF"/>
<circle cx="420.42" cy="597.34" r="2.1" fill="#00FFFF"/>
<circle cx="363.34" cy="614.47" r="2.1" fill="#00FFFF"/>
<circle cx="372.74" cy="612.79" r="2.1" fill="#00FFFF"/>
<circle cx="358.64" cy="620.51" r="2.1" fill="#00FFFF"/>
<circle cx="371.73" cy="617.49" r="2.1" fill="#00FFFF"/>
<circle cx="377.1" cy="617.49" r="2.1" fill="#00FFFF"/>
<circle cx="382.14" cy="623.87" r="2.1" fill="#00FFFF"/>
<circle cx="414.04" cy="612.79" r="2.1" fill="#00FFFF"/>
<circle cx="425.79" cy="621.52" r="2.1" fill="#00FFFF"/>
<circle cx="406.31" cy="625.55" r="2.1" fill="#00FFFF"/>
<circle cx="354.27" cy="630.58" r="2.1" fill="#00FFFF"/>
<circle cx="354.94" cy="636.29" r="2.1" fill="#00FFFF"/>
<circle cx="358.3" cy="637.3" r="2.1" fill="#00FFFF"/>
<circle cx="372.74" cy="633.94" r="2.1" fill="#00FFFF"/>
<circle cx="377.77" cy="634.61" r="2.1" fill="#00FFFF"/>
<circle cx="380.12" cy="632.6" r="2.1" fill="#00FFFF"/>
<circle cx="363.34" cy="638.31" r="2.1" fill="#00FFFF"/>
<circle cx="348.23" cy="637.3" r="2.1" fill="#00FFFF"/>
<circle cx="346.55" cy="642.67" r="2.1" fill="#00FFFF"/>
<circle cx="376.09" cy="642.67" r="2.1" fill="#00FFFF"/>
<circle cx="387.18" cy="640.66" r="2.1" fill="#00FFFF"/>
<circle cx="410.68" cy="643.34" r="2.1" fill="#00FFFF"/>
<circle cx="387.85" cy="654.76" r="2.1" fill="#00FFFF"/>
<circle cx="400.27" cy="657.45" r="2.1" fill="#00FFFF"/>
<circle cx="400.27" cy="662.48" r="2.1" fill="#00FFFF"/>
<circle cx="410.34" cy="661.81" r="2.1" fill="#00FFFF"/>
<circle cx="417.06" cy="665.84" r="2.1" fill="#00FFFF"/>
<circle cx="401.28" cy="670.2" r="2.1" fill="#00FFFF"/>
<circle cx="338.12" cy="623.61" r="2.1" fill="#FF0000"/>
<circle cx="344.43" cy="625.6" r="2.1" fill="#FF0000"/>
<circle cx="349.1" cy="626.18" r="2.1" fill="#FF0000"/>
<circle cx="338.94" cy="630.62" r="2.1" fill="#FF0000"/>
<circle cx="331.35" cy="632.96" r="2.1" fill="#FF0000"/>
<circle cx="334.27" cy="633.54" r="2.1" fill="#FF0000"/>
<circle cx="337.19" cy="633.54" r="2.1" fill="#FF0000"/>
<circle cx="340.11" cy="634.71" r="2.1" fill="#FF0000"/>
<circle cx="330.18" cy="635.29" r="2.1" fill="#FF0000"/>
<circle cx="333.1" cy="635.88" r="2.1" fill="#FF0000"/>
<circle cx="336.02" cy="635.88" r="2.1" fill="#FF0000"/>
<circle cx="338.94" cy="636.46" r="2.1" fill="#FF0000"/>
<circle cx="329.6" cy="638.21" r="2.1" fill="#FF0000"/>
<circle cx="332.52" cy="638.8" r="2.1" fill="#FF0000"/>
<circle cx="335.44" cy="638.21" r="2.1" fill="#FF0000"/>
<circle cx="342.09" cy="640.55" r="2.1" fill="#FF0000"/>
<circle cx="331.35" cy="637.04" r="2.1" fill="#FF0000"/>
<circle cx="329.01" cy="636.46" r="2.1" fill="#FF0000"/>
<text x="272.9" y="575.8" font-size="10.75" stroke="#111" stroke-width="0.13" textLength="32.91" lengthAdjust="spacingAndGlyphs" fill="#111">mBAG3</text>
<text x="421.42" y="575.8" font-size="10.75" stroke="#111" stroke-width="0.13" textLength="19.47" lengthAdjust="spacingAndGlyphs" fill="#111">KIRP</text>
<text x="266.9" y="583.97" font-size="9.2" text-anchor="end" textLength="18.62" lengthAdjust="spacingAndGlyphs" fill="#2a2a2a">1000</text>
<text x="266.9" y="610.89" font-size="9.2" text-anchor="end" textLength="13.97" lengthAdjust="spacingAndGlyphs" fill="#2a2a2a">500</text>
<text x="266.9" y="637.81" font-size="9.2" text-anchor="end" textLength="4.66" lengthAdjust="spacingAndGlyphs" fill="#2a2a2a">0</text>
<text x="266.9" y="664.05" font-size="9.2" text-anchor="end" textLength="16.75" lengthAdjust="spacingAndGlyphs" fill="#2a2a2a">-500</text>
<text x="266.9" y="690.97" font-size="9.2" text-anchor="end" textLength="21.41" lengthAdjust="spacingAndGlyphs" fill="#2a2a2a">-1000</text>
<text x="272.15" y="700.5" font-size="9.2" text-anchor="middle" textLength="21.41" lengthAdjust="spacingAndGlyphs" fill="#2a2a2a">-2000</text>
<text x="315.82" y="700.5" font-size="9.2" text-anchor="middle" textLength="21.41" lengthAdjust="spacingAndGlyphs" fill="#2a2a2a">-1000</text>
<text x="359.49" y="700.5" font-size="9.2" text-anchor="middle" textLength="4.66" lengthAdjust="spacingAndGlyphs" fill="#2a2a2a">0</text>
<text x="402.48" y="700.5" font-size="9.2" text-anchor="middle" textLength="18.62" lengthAdjust="spacingAndGlyphs" fill="#2a2a2a">1000</text>
<text x="446.15" y="700.5" font-size="9.2" text-anchor="middle" textLength="18.62" lengthAdjust="spacingAndGlyphs" fill="#2a2a2a">2000</text>
<text x="357.3" y="714.5" font-size="9.9" text-anchor="middle" textLength="15.45" lengthAdjust="spacingAndGlyphs" fill="#2a2a2a">PC1</text>
<text transform="translate(238.36,634.3) rotate(-90)" font-size="9.9" text-anchor="middle" textLength="16.1" lengthAdjust="spacingAndGlyphs" fill="#2a2a2a">PC2</text>
<rect x="272.5" y="579.5" width="174" height="107" fill="none" stroke="#7a7a7a" stroke-width="1"/>
<path d="M273 606.5 H274.6 M446 606.5 H444.4 M273 633.5 H274.6 M446 633.5 H444.4 M273 659.5 H274.6 M446 659.5 H444.4 M316.5 686 V684.4 M316.5 580 V581.6 M359.5 686 V684.4 M359.5 580 V581.6 M402.5 686 V684.4 M402.5 580 V581.6" stroke="#7a7a7a" stroke-width="1" fill="none"/>
<circle cx="571.82" cy="607.74" r="2.1" fill="#00FFFF"/>
<circle cx="601.12" cy="609.85" r="2.1" fill="#00FFFF"/>
<circle cx="633.31" cy="601.83" r="2.1" fill="#00FFFF"/>
<circle cx="640.41" cy="607.09" r="2.1" fill="#00FFFF"/>
<circle cx="590.22" cy="619.04" r="2.1" fill="#00FFFF"/>
<circle cx="602.31" cy="621.28" r="2.1" fill="#00FFFF"/>
<circle cx="608.61" cy="619.57" r="2.1" fill="#00FFFF"/>
<circle cx="612.29" cy="621.93" r="2.1" fill="#00FFFF"/>
<circle cx="628.32" cy="622.33" r="2.1" fill="#00FFFF"/>
<circle cx="582.6" cy="624.17" r="2.1" fill="#00FFFF"/>
<circle cx="584.31" cy="622.85" r="2.1" fill="#00FFFF"/>
<circle cx="601.39" cy="626.14" r="2.1" fill="#00FFFF"/>
<circle cx="604.41" cy="627.19" r="2.1" fill="#00FFFF"/>
<circle cx="618.47" cy="627.19" r="2.1" fill="#00FFFF"/>
<circle cx="610.58" cy="630.47" r="2.1" fill="#00FFFF"/>
<circle cx="612.56" cy="633.1" r="2.1" fill="#00FFFF"/>
<circle cx="605.33" cy="632.84" r="2.1" fill="#00FFFF"/>
<circle cx="588.64" cy="634.02" r="2.1" fill="#00FFFF"/>
<circle cx="602.31" cy="635.73" r="2.1" fill="#00FFFF"/>
<circle cx="603.36" cy="637.7" r="2.1" fill="#00FFFF"/>
<circle cx="607.96" cy="637.31" r="2.1" fill="#00FFFF"/>
<circle cx="613.21" cy="638.36" r="2.1" fill="#00FFFF"/>
<circle cx="591.27" cy="638.75" r="2.1" fill="#00FFFF"/>
<circle cx="588.91" cy="640.99" r="2.1" fill="#00FFFF"/>
<circle cx="594.82" cy="641.25" r="2.1" fill="#00FFFF"/>
<circle cx="596.13" cy="639.02" r="2.1" fill="#00FFFF"/>
<circle cx="598.76" cy="639.02" r="2.1" fill="#00FFFF"/>
<circle cx="623.72" cy="639.93" r="2.1" fill="#00FFFF"/>
<circle cx="609.93" cy="642.96" r="2.1" fill="#00FFFF"/>
<circle cx="612.56" cy="643.35" r="2.1" fill="#00FFFF"/>
<circle cx="581.68" cy="638.75" r="2.1" fill="#00FFFF"/>
<circle cx="606.64" cy="645.98" r="2.1" fill="#00FFFF"/>
<circle cx="598.1" cy="647.56" r="2.1" fill="#00FFFF"/>
<circle cx="600.07" cy="648.21" r="2.1" fill="#00FFFF"/>
<circle cx="600.73" cy="650.18" r="2.1" fill="#00FFFF"/>
<circle cx="579.31" cy="650.18" r="2.1" fill="#00FFFF"/>
<circle cx="586.28" cy="651.89" r="2.1" fill="#00FFFF"/>
<circle cx="593.9" cy="653.47" r="2.1" fill="#00FFFF"/>
<circle cx="596.79" cy="652.81" r="2.1" fill="#00FFFF"/>
<circle cx="601.39" cy="654.12" r="2.1" fill="#00FFFF"/>
<circle cx="596.79" cy="657.02" r="2.1" fill="#00FFFF"/>
<circle cx="574.19" cy="657.02" r="2.1" fill="#00FFFF"/>
<circle cx="580.37" cy="658.33" r="2.1" fill="#00FFFF"/>
<circle cx="582.07" cy="658.33" r="2.1" fill="#00FFFF"/>
<circle cx="605.72" cy="657.8" r="2.1" fill="#00FFFF"/>
<circle cx="575.77" cy="663.98" r="2.1" fill="#00FFFF"/>
<circle cx="580.37" cy="663.32" r="2.1" fill="#00FFFF"/>
<circle cx="583.39" cy="601.83" r="2.1" fill="#FF0000"/>
<circle cx="568.93" cy="614.05" r="2.1" fill="#FF0000"/>
<circle cx="575.5" cy="612.08" r="2.1" fill="#FF0000"/>
<circle cx="579.05" cy="617.6" r="2.1" fill="#FF0000"/>
<circle cx="570.51" cy="620.62" r="2.1" fill="#FF0000"/>
<circle cx="573.14" cy="619.31" r="2.1" fill="#FF0000"/>
<circle cx="578.39" cy="622.59" r="2.1" fill="#FF0000"/>
<circle cx="567.88" cy="626.53" r="2.1" fill="#FF0000"/>
<circle cx="571.82" cy="624.56" r="2.1" fill="#FF0000"/>
<circle cx="575.77" cy="625.88" r="2.1" fill="#FF0000"/>
<circle cx="584.7" cy="627.85" r="2.1" fill="#FF0000"/>
<circle cx="566.57" cy="629.42" r="2.1" fill="#FF0000"/>
<circle cx="569.85" cy="629.82" r="2.1" fill="#FF0000"/>
<circle cx="573.14" cy="629.16" r="2.1" fill="#FF0000"/>
<circle cx="577.08" cy="628.9" r="2.1" fill="#FF0000"/>
<circle cx="567.88" cy="634.42" r="2.1" fill="#FF0000"/>
<circle cx="571.17" cy="633.1" r="2.1" fill="#FF0000"/>
<circle cx="574.45" cy="633.76" r="2.1" fill="#FF0000"/>
<circle cx="569.85" cy="638.36" r="2.1" fill="#FF0000"/>
<circle cx="573.14" cy="637.7" r="2.1" fill="#FF0000"/>
<circle cx="577.08" cy="638.36" r="2.1" fill="#FF0000"/>
<circle cx="577.74" cy="640.99" r="2.1" fill="#FF0000"/>
<circle cx="569.46" cy="643.61" r="2.1" fill="#FF0000"/>
<circle cx="576.03" cy="644.53" r="2.1" fill="#FF0000"/>
<circle cx="572.48" cy="635.73" r="2.1" fill="#FF0000"/>
<circle cx="568.54" cy="631.79" r="2.1" fill="#FF0000"/>
<text x="499.9" y="575.8" font-size="10.75" stroke="#111" stroke-width="0.13" textLength="41.3" lengthAdjust="spacingAndGlyphs" fill="#111">mYWHAZ</text>
<text x="644.71" y="575.8" font-size="10.75" stroke="#111" stroke-width="0.13" textLength="25.18" lengthAdjust="spacingAndGlyphs" fill="#111">LUAD</text>
<text x="492.7" y="583.97" font-size="9.2" text-anchor="end" textLength="13.97" lengthAdjust="spacingAndGlyphs" fill="#2a2a2a">400</text>
<text x="492.7" y="610.89" font-size="9.2" text-anchor="end" textLength="13.97" lengthAdjust="spacingAndGlyphs" fill="#2a2a2a">200</text>
<text x="492.7" y="637.81" font-size="9.2" text-anchor="end" textLength="4.66" lengthAdjust="spacingAndGlyphs" fill="#2a2a2a">0</text>
<text x="492.7" y="664.05" font-size="9.2" text-anchor="end" textLength="16.75" lengthAdjust="spacingAndGlyphs" fill="#2a2a2a">-200</text>
<text x="492.7" y="690.97" font-size="9.2" text-anchor="end" textLength="16.75" lengthAdjust="spacingAndGlyphs" fill="#2a2a2a">-400</text>
<text x="499.15" y="700.5" font-size="9.2" text-anchor="middle" textLength="21.41" lengthAdjust="spacingAndGlyphs" fill="#2a2a2a">-1000</text>
<text x="542.9" y="700.5" font-size="9.2" text-anchor="middle" textLength="16.75" lengthAdjust="spacingAndGlyphs" fill="#2a2a2a">-500</text>
<text x="586.65" y="700.5" font-size="9.2" text-anchor="middle" textLength="4.66" lengthAdjust="spacingAndGlyphs" fill="#2a2a2a">0</text>
<text x="630.4" y="700.5" font-size="9.2" text-anchor="middle" textLength="13.97" lengthAdjust="spacingAndGlyphs" fill="#2a2a2a">500</text>
<text x="674.15" y="700.5" font-size="9.2" text-anchor="middle" textLength="18.62" lengthAdjust="spacingAndGlyphs" fill="#2a2a2a">1000</text>
<text x="584.8" y="714.5" font-size="9.9" text-anchor="middle" textLength="15.45" lengthAdjust="spacingAndGlyphs" fill="#2a2a2a">PC1</text>
<text transform="translate(470.04,634.3) rotate(-90)" font-size="9.9" text-anchor="middle" textLength="16.1" lengthAdjust="spacingAndGlyphs" fill="#2a2a2a">PC2</text>
<rect x="499.5" y="579.5" width="175" height="107" fill="none" stroke="#7a7a7a" stroke-width="1"/>
<path d="M500 606.5 H501.6 M674 606.5 H672.4 M500 633.5 H501.6 M674 633.5 H672.4 M500 659.5 H501.6 M674 659.5 H672.4 M543.5 686 V684.4 M543.5 580 V581.6 M587.5 686 V684.4 M587.5 580 V581.6 M630.5 686 V684.4 M630.5 580 V581.6" stroke="#7a7a7a" stroke-width="1" fill="none"/>
<circle cx="145.98" cy="766.04" r="2.1" fill="#00FFFF"/>
<circle cx="145.27" cy="770.12" r="2.1" fill="#00FFFF"/>
<circle cx="134.95" cy="768.08" r="2.1" fill="#00FFFF"/>
<circle cx="132.9" cy="770.53" r="2.1" fill="#00FFFF"/>
<circle cx="126.36" cy="773.9" r="2.1" fill="#00FFFF"/>
<circle cx="136.58" cy="774.93" r="2.1" fill="#00FFFF"/>
<circle cx="141.9" cy="776.77" r="2.1" fill="#00FFFF"/>
<circle cx="148.03" cy="777.99" r="2.1" fill="#00FFFF"/>
<circle cx="127.08" cy="779.52" r="2.1" fill="#00FFFF"/>
<circle cx="129.12" cy="780.04" r="2.1" fill="#00FFFF"/>
<circle cx="130.66" cy="781.06" r="2.1" fill="#00FFFF"/>
<circle cx="132.7" cy="782.08" r="2.1" fill="#00FFFF"/>
<circle cx="128.61" cy="782.59" r="2.1" fill="#00FFFF"/>
<circle cx="130.66" cy="783.61" r="2.1" fill="#00FFFF"/>
<circle cx="133.21" cy="784.12" r="2.1" fill="#00FFFF"/>
<circle cx="135.25" cy="784.63" r="2.1" fill="#00FFFF"/>
<circle cx="138.32" cy="782.59" r="2.1" fill="#00FFFF"/>
<circle cx="138.83" cy="784.63" r="2.1" fill="#00FFFF"/>
<circle cx="142.41" cy="785.45" r="2.1" fill="#00FFFF"/>
<circle cx="130.66" cy="786.17" r="2.1" fill="#00FFFF"/>
<circle cx="133.72" cy="786.68" r="2.1" fill="#00FFFF"/>
<circle cx="136.79" cy="787.7" r="2.1" fill="#00FFFF"/>
<circle cx="133.21" cy="790.25" r="2.1" fill="#00FFFF"/>
<circle cx="131.47" cy="793.83" r="2.1" fill="#00FFFF"/>
<circle cx="138.32" cy="792.3" r="2.1" fill="#00FFFF"/>
<circle cx="140.87" cy="791.79" r="2.1" fill="#00FFFF"/>
<circle cx="142.41" cy="791.28" r="2.1" fill="#00FFFF"/>
<circle cx="150.89" cy="789.23" r="2.1" fill="#00FFFF"/>
<circle cx="150.58" cy="791.28" r="2.1" fill="#00FFFF"/>
<circle cx="160.29" cy="794.04" r="2.1" fill="#00FFFF"/>
<circle cx="122.28" cy="795.16" r="2.1" fill="#00FFFF"/>
<circle cx="137.81" cy="799.14" r="2.1" fill="#00FFFF"/>
<circle cx="145.98" cy="799.14" r="2.1" fill="#00FFFF"/>
<circle cx="152.12" cy="799.14" r="2.1" fill="#00FFFF"/>
<circle cx="153.14" cy="803.03" r="2.1" fill="#00FFFF"/>
<circle cx="150.58" cy="803.85" r="2.1" fill="#00FFFF"/>
<circle cx="135.77" cy="785.66" r="2.1" fill="#00FFFF"/>
<circle cx="137.3" cy="786.17" r="2.1" fill="#00FFFF"/>
<circle cx="210.53" cy="744.26" r="2.1" fill="#00FFFF"/>
<circle cx="186.35" cy="834.91" r="2.1" fill="#00FFFF"/>
<circle cx="121.66" cy="774.93" r="2.1" fill="#FF0000"/>
<circle cx="116.35" cy="781.06" r="2.1" fill="#FF0000"/>
<circle cx="118.9" cy="782.59" r="2.1" fill="#FF0000"/>
<circle cx="120.44" cy="784.12" r="2.1" fill="#FF0000"/>
<circle cx="113.28" cy="785.15" r="2.1" fill="#FF0000"/>
<circle cx="115.84" cy="784.63" r="2.1" fill="#FF0000"/>
<circle cx="117.88" cy="785.66" r="2.1" fill="#FF0000"/>
<circle cx="112.26" cy="787.7" r="2.1" fill="#FF0000"/>
<circle cx="114.82" cy="787.7" r="2.1" fill="#FF0000"/>
<circle cx="116.86" cy="787.7" r="2.1" fill="#FF0000"/>
<circle cx="112.77" cy="790.25" r="2.1" fill="#FF0000"/>
<circle cx="115.33" cy="790.25" r="2.1" fill="#FF0000"/>
<circle cx="113.28" cy="791.28" r="2.1" fill="#FF0000"/>
<circle cx="114.31" cy="789.23" r="2.1" fill="#FF0000"/>
<circle cx="117.37" cy="783.61" r="2.1" fill="#FF0000"/>
<text x="43.9" y="729.8" font-size="10.75" stroke="#111" stroke-width="0.13" textLength="33.58" lengthAdjust="spacingAndGlyphs" fill="#111">mPCNA</text>
<text x="189.71" y="729.8" font-size="10.75" stroke="#111" stroke-width="0.13" textLength="22.83" lengthAdjust="spacingAndGlyphs" fill="#111">LUSC</text>
<text x="36.9" y="737.97" font-size="9.2" text-anchor="end" textLength="18.62" lengthAdjust="spacingAndGlyphs" fill="#2a2a2a">1000</text>
<text x="36.9" y="764.3" font-size="9.2" text-anchor="end" textLength="13.97" lengthAdjust="spacingAndGlyphs" fill="#2a2a2a">500</text>
<text x="36.9" y="791.3" font-size="9.2" text-anchor="end" textLength="4.66" lengthAdjust="spacingAndGlyphs" fill="#2a2a2a">0</text>
<text x="36.9" y="817.97" font-size="9.2" text-anchor="end" textLength="16.75" lengthAdjust="spacingAndGlyphs" fill="#2a2a2a">-500</text>
<text x="36.9" y="844.97" font-size="9.2" text-anchor="end" textLength="21.41" lengthAdjust="spacingAndGlyphs" fill="#2a2a2a">-1000</text>
<text x="43.15" y="854.5" font-size="9.2" text-anchor="middle" textLength="21.41" lengthAdjust="spacingAndGlyphs" fill="#2a2a2a">-5000</text>
<text x="127.63" y="854.5" font-size="9.2" text-anchor="middle" textLength="4.66" lengthAdjust="spacingAndGlyphs" fill="#2a2a2a">0</text>
<text x="211.78" y="854.5" font-size="9.2" text-anchor="middle" textLength="18.62" lengthAdjust="spacingAndGlyphs" fill="#2a2a2a">5000</text>
<text x="128.8" y="868.5" font-size="9.9" text-anchor="middle" textLength="15.45" lengthAdjust="spacingAndGlyphs" fill="#2a2a2a">PC1</text>
<text transform="translate(9.33,788.3) rotate(-90)" font-size="9.9" text-anchor="middle" textLength="16.1" lengthAdjust="spacingAndGlyphs" fill="#2a2a2a">PC2</text>
<rect x="43.5" y="733.5" width="175" height="107" fill="none" stroke="#7a7a7a" stroke-width="1"/>
<path d="M44 759.5 H45.6 M218 759.5 H216.4 M44 786.5 H45.6 M218 786.5 H216.4 M44 813.5 H45.6 M218 813.5 H216.4 M127.5 840 V838.4 M127.5 734 V735.6 M212.5 840 V838.4 M212.5 734 V735.6" stroke="#7a7a7a" stroke-width="1" fill="none"/>
<circle cx="377.3" cy="735.26" r="2.1" fill="#00FFFF"/>
<circle cx="411.2" cy="736.31" r="2.1" fill="#00FFFF"/>
<circle cx="355.36" cy="740.51" r="2.1" fill="#00FFFF"/>
<circle cx="363.5" cy="746.03" r="2.1" fill="#00FFFF"/>
<circle cx="367.71" cy="746.82" r="2.1" fill="#00FFFF"/>
<circle cx="364.42" cy="749.71" r="2.1" fill="#00FFFF"/>
<circle cx="366.13" cy="751.02" r="2.1" fill="#00FFFF"/>
<circle cx="377.3" cy="751.68" r="2.1" fill="#00FFFF"/>
<circle cx="388.21" cy="753.26" r="2.1" fill="#00FFFF"/>
<circle cx="370.73" cy="753.65" r="2.1" fill="#00FFFF"/>
<circle cx="373.36" cy="755.23" r="2.1" fill="#00FFFF"/>
<circle cx="375.33" cy="755.62" r="2.1" fill="#00FFFF"/>
<circle cx="364.16" cy="754.7" r="2.1" fill="#00FFFF"/>
<circle cx="354.96" cy="755.23" r="2.1" fill="#00FFFF"/>
<circle cx="356.93" cy="756.28" r="2.1" fill="#00FFFF"/>
<circle cx="358.25" cy="757.59" r="2.1" fill="#00FFFF"/>
<circle cx="361.14" cy="760.61" r="2.1" fill="#00FFFF"/>
<circle cx="365.74" cy="760.61" r="2.1" fill="#00FFFF"/>
<circle cx="353.39" cy="759.56" r="2.1" fill="#00FFFF"/>
<circle cx="349.71" cy="759.56" r="2.1" fill="#00FFFF"/>
<circle cx="378.61" cy="757.59" r="2.1" fill="#00FFFF"/>
<circle cx="381.9" cy="756.93" r="2.1" fill="#00FFFF"/>
<circle cx="380.58" cy="759.96" r="2.1" fill="#00FFFF"/>
<circle cx="386.89" cy="758.25" r="2.1" fill="#00FFFF"/>
<circle cx="360.88" cy="766.13" r="2.1" fill="#00FFFF"/>
<circle cx="358.25" cy="768.1" r="2.1" fill="#00FFFF"/>
<circle cx="364.82" cy="768.76" r="2.1" fill="#00FFFF"/>
<circle cx="368.1" cy="769.42" r="2.1" fill="#00FFFF"/>
<circle cx="362.19" cy="770.73" r="2.1" fill="#00FFFF"/>
<circle cx="359.56" cy="772.7" r="2.1" fill="#00FFFF"/>
<circle cx="363.5" cy="772.04" r="2.1" fill="#00FFFF"/>
<circle cx="366.79" cy="772.04" r="2.1" fill="#00FFFF"/>
<circle cx="369.42" cy="773.36" r="2.1" fill="#00FFFF"/>
<circle cx="366.13" cy="775.99" r="2.1" fill="#00FFFF"/>
<circle cx="371.39" cy="775.33" r="2.1" fill="#00FFFF"/>
<circle cx="375.33" cy="776.64" r="2.1" fill="#00FFFF"/>
<circle cx="374.02" cy="774.02" r="2.1" fill="#00FFFF"/>
<circle cx="361.53" cy="788.86" r="2.1" fill="#00FFFF"/>
<circle cx="367.71" cy="788.07" r="2.1" fill="#00FFFF"/>
<circle cx="364.95" cy="793.07" r="2.1" fill="#00FFFF"/>
<circle cx="378.61" cy="807.78" r="2.1" fill="#00FFFF"/>
<circle cx="396.75" cy="811.2" r="2.1" fill="#00FFFF"/>
<circle cx="359.56" cy="770.07" r="2.1" fill="#00FFFF"/>
<circle cx="357.59" cy="771.39" r="2.1" fill="#00FFFF"/>
<circle cx="345.77" cy="759.56" r="2.1" fill="#FF0000"/>
<circle cx="344.45" cy="762.19" r="2.1" fill="#FF0000"/>
<circle cx="347.08" cy="763.5" r="2.1" fill="#FF0000"/>
<circle cx="349.71" cy="763.5" r="2.1" fill="#FF0000"/>
<circle cx="343.8" cy="765.47" r="2.1" fill="#FF0000"/>
<circle cx="345.77" cy="766.13" r="2.1" fill="#FF0000"/>
<circle cx="348.39" cy="766.79" r="2.1" fill="#FF0000"/>
<circle cx="343.8" cy="768.76" r="2.1" fill="#FF0000"/>
<circle cx="346.42" cy="769.42" r="2.1" fill="#FF0000"/>
<circle cx="349.71" cy="769.42" r="2.1" fill="#FF0000"/>
<circle cx="351.68" cy="770.73" r="2.1" fill="#FF0000"/>
<circle cx="353.65" cy="772.7" r="2.1" fill="#FF0000"/>
<circle cx="347.08" cy="775.99" r="2.1" fill="#FF0000"/>
<circle cx="349.71" cy="776.64" r="2.1" fill="#FF0000"/>
<circle cx="352.99" cy="779.93" r="2.1" fill="#FF0000"/>
<circle cx="357.59" cy="782.29" r="2.1" fill="#FF0000"/>
<circle cx="353.65" cy="784.53" r="2.1" fill="#FF0000"/>
<circle cx="356.28" cy="785.84" r="2.1" fill="#FF0000"/>
<circle cx="359.56" cy="789.12" r="2.1" fill="#FF0000"/>
<circle cx="359.96" cy="791.1" r="2.1" fill="#FF0000"/>
<circle cx="363.5" cy="798.98" r="2.1" fill="#FF0000"/>
<circle cx="364.82" cy="799.24" r="2.1" fill="#FF0000"/>
<circle cx="375.07" cy="801.87" r="2.1" fill="#FF0000"/>
<circle cx="376.64" cy="820.4" r="2.1" fill="#FF0000"/>
<circle cx="345.11" cy="764.16" r="2.1" fill="#FF0000"/>
<circle cx="348.39" cy="765.47" r="2.1" fill="#FF0000"/>
<circle cx="351.02" cy="772.7" r="2.1" fill="#FF0000"/>
<text x="272.9" y="729.8" font-size="10.75" stroke="#111" stroke-width="0.13" textLength="39.62" lengthAdjust="spacingAndGlyphs" fill="#111">mCCND1</text>
<text x="417.06" y="729.8" font-size="10.75" stroke="#111" stroke-width="0.13" textLength="24.51" lengthAdjust="spacingAndGlyphs" fill="#111">THCA</text>
<text x="266.6" y="737.97" font-size="9.2" text-anchor="end" textLength="13.97" lengthAdjust="spacingAndGlyphs" fill="#2a2a2a">100</text>
<text x="266.6" y="773.41" font-size="9.2" text-anchor="end" textLength="4.66" lengthAdjust="spacingAndGlyphs" fill="#2a2a2a">0</text>
<text x="266.6" y="809.53" font-size="9.2" text-anchor="end" textLength="16.75" lengthAdjust="spacingAndGlyphs" fill="#2a2a2a">-100</text>
<text x="266.6" y="844.97" font-size="9.2" text-anchor="end" textLength="16.75" lengthAdjust="spacingAndGlyphs" fill="#2a2a2a">-200</text>
<text x="272.15" y="854.5" font-size="9.2" text-anchor="middle" textLength="16.75" lengthAdjust="spacingAndGlyphs" fill="#2a2a2a">-500</text>
<text x="359.15" y="854.5" font-size="9.2" text-anchor="middle" textLength="4.66" lengthAdjust="spacingAndGlyphs" fill="#2a2a2a">0</text>
<text x="446.15" y="854.5" font-size="9.2" text-anchor="middle" textLength="13.97" lengthAdjust="spacingAndGlyphs" fill="#2a2a2a">500</text>
<text x="357.3" y="868.5" font-size="9.9" text-anchor="middle" textLength="15.45" lengthAdjust="spacingAndGlyphs" fill="#2a2a2a">PC1</text>
<text transform="translate(242.39,788.3) rotate(-90)" font-size="9.9" text-anchor="middle" textLength="16.1" lengthAdjust="spacingAndGlyphs" fill="#2a2a2a">PC2</text>
<rect x="272.5" y="733.5" width="174" height="107" fill="none" stroke="#7a7a7a" stroke-width="1"/>
<path d="M273 768.5 H274.6 M446 768.5 H444.4 M273 805.5 H274.6 M446 805.5 H444.4 M359.5 840 V838.4 M359.5 734 V735.6" stroke="#7a7a7a" stroke-width="1" fill="none"/>
<circle cx="628.19" cy="781.52" r="2.1" fill="#00FFFF"/>
<circle cx="587.39" cy="789.49" r="2.1" fill="#00FFFF"/>
<circle cx="576.57" cy="795.18" r="2.1" fill="#00FFFF"/>
<circle cx="604.09" cy="793.29" r="2.1" fill="#00FFFF"/>
<circle cx="605.04" cy="798.6" r="2.1" fill="#00FFFF"/>
<circle cx="604.66" cy="801.26" r="2.1" fill="#00FFFF"/>
<circle cx="623.07" cy="798.6" r="2.1" fill="#00FFFF"/>
<circle cx="638.82" cy="803.15" r="2.1" fill="#00FFFF"/>
<circle cx="595.55" cy="801.26" r="2.1" fill="#00FFFF"/>
<circle cx="599.72" cy="801.83" r="2.1" fill="#00FFFF"/>
<circle cx="592.7" cy="803.15" r="2.1" fill="#00FFFF"/>
<circle cx="589.86" cy="804.67" r="2.1" fill="#00FFFF"/>
<circle cx="589.48" cy="806.95" r="2.1" fill="#00FFFF"/>
<circle cx="597.45" cy="805.62" r="2.1" fill="#00FFFF"/>
<circle cx="585.11" cy="808.09" r="2.1" fill="#00FFFF"/>
<circle cx="609.78" cy="801.83" r="2.1" fill="#00FFFF"/>
<circle cx="618.7" cy="803.72" r="2.1" fill="#00FFFF"/>
<circle cx="609.78" cy="808.47" r="2.1" fill="#00FFFF"/>
<circle cx="613.01" cy="808.85" r="2.1" fill="#00FFFF"/>
<circle cx="616.05" cy="809.8" r="2.1" fill="#00FFFF"/>
<circle cx="598.4" cy="811.88" r="2.1" fill="#00FFFF"/>
<circle cx="622.69" cy="815.11" r="2.1" fill="#00FFFF"/>
<circle cx="625.54" cy="814.54" r="2.1" fill="#00FFFF"/>
<circle cx="621.74" cy="818.91" r="2.1" fill="#00FFFF"/>
<circle cx="634.08" cy="820.24" r="2.1" fill="#00FFFF"/>
<circle cx="648.69" cy="818.91" r="2.1" fill="#00FFFF"/>
<circle cx="664.44" cy="815.68" r="2.1" fill="#00FFFF"/>
<circle cx="615.16" cy="733.51" r="2.1" fill="#00FFFF"/>
<circle cx="560.44" cy="804.67" r="2.1" fill="#FF0000"/>
<circle cx="562.34" cy="805.62" r="2.1" fill="#FF0000"/>
<circle cx="564.23" cy="804.67" r="2.1" fill="#FF0000"/>
<circle cx="566.13" cy="806.19" r="2.1" fill="#FF0000"/>
<circle cx="568.03" cy="805.62" r="2.1" fill="#FF0000"/>
<circle cx="569.93" cy="806.57" r="2.1" fill="#FF0000"/>
<circle cx="571.83" cy="805.62" r="2.1" fill="#FF0000"/>
<circle cx="573.72" cy="806.19" r="2.1" fill="#FF0000"/>
<circle cx="575.62" cy="805.62" r="2.1" fill="#FF0000"/>
<circle cx="577.52" cy="805.05" r="2.1" fill="#FF0000"/>
<circle cx="561.39" cy="806.57" r="2.1" fill="#FF0000"/>
<circle cx="567.08" cy="807.52" r="2.1" fill="#FF0000"/>
<circle cx="570.88" cy="808.47" r="2.1" fill="#FF0000"/>
<circle cx="581.88" cy="806.57" r="2.1" fill="#FF0000"/>
<circle cx="565.18" cy="806.95" r="2.1" fill="#FF0000"/>
<circle cx="568.98" cy="807.52" r="2.1" fill="#FF0000"/>
<circle cx="572.77" cy="807.52" r="2.1" fill="#FF0000"/>
<text x="502.9" y="729.8" font-size="10.75" stroke="#111" stroke-width="0.13" textLength="32.91" lengthAdjust="spacingAndGlyphs" fill="#111">mPCNA</text>
<text x="646.39" y="729.8" font-size="10.75" stroke="#111" stroke-width="0.13" textLength="24.51" lengthAdjust="spacingAndGlyphs" fill="#111">UCEC</text>
<text x="495.9" y="737.97" font-size="9.2" text-anchor="end" textLength="18.62" lengthAdjust="spacingAndGlyphs" fill="#2a2a2a">2000</text>
<text x="495.9" y="773.41" font-size="9.2" text-anchor="end" textLength="18.62" lengthAdjust="spacingAndGlyphs" fill="#2a2a2a">1000</text>
<text x="495.9" y="809.53" font-size="9.2" text-anchor="end" textLength="4.66" lengthAdjust="spacingAndGlyphs" fill="#2a2a2a">0</text>
<text x="495.9" y="844.97" font-size="9.2" text-anchor="end" textLength="21.41" lengthAdjust="spacingAndGlyphs" fill="#2a2a2a">-1000</text>
<text x="502.15" y="854.5" font-size="9.2" text-anchor="middle" textLength="21.41" lengthAdjust="spacingAndGlyphs" fill="#2a2a2a">-2000</text>
<text x="544.98" y="854.5" font-size="9.2" text-anchor="middle" textLength="21.41" lengthAdjust="spacingAndGlyphs" fill="#2a2a2a">-1000</text>
<text x="588.48" y="854.5" font-size="9.2" text-anchor="middle" textLength="4.66" lengthAdjust="spacingAndGlyphs" fill="#2a2a2a">0</text>
<text x="631.98" y="854.5" font-size="9.2" text-anchor="middle" textLength="18.62" lengthAdjust="spacingAndGlyphs" fill="#2a2a2a">1000</text>
<text x="675.48" y="854.5" font-size="9.2" text-anchor="middle" textLength="18.62" lengthAdjust="spacingAndGlyphs" fill="#2a2a2a">2000</text>
<text x="587.3" y="868.5" font-size="9.9" text-anchor="middle" textLength="15.45" lengthAdjust="spacingAndGlyphs" fill="#2a2a2a">PC1</text>
<text transform="translate(467.69,788.3) rotate(-90)" font-size="9.9" text-anchor="middle" textLength="16.1" lengthAdjust="spacingAndGlyphs" fill="#2a2a2a">PC2</text>
<rect x="502.5" y="733.5" width="174" height="107" fill="none" stroke="#7a7a7a" stroke-width="1"/>
<path d="M503 768.5 H504.6 M676 768.5 H674.4 M503 805.5 H504.6 M676 805.5 H674.4 M545.5 840 V838.4 M545.5 734 V735.6 M588.5 840 V838.4 M588.5 734 V735.6 M632.5 840 V838.4 M632.5 734 V735.6" stroke="#7a7a7a" stroke-width="1" fill="none"/>
</svg></body></html>
